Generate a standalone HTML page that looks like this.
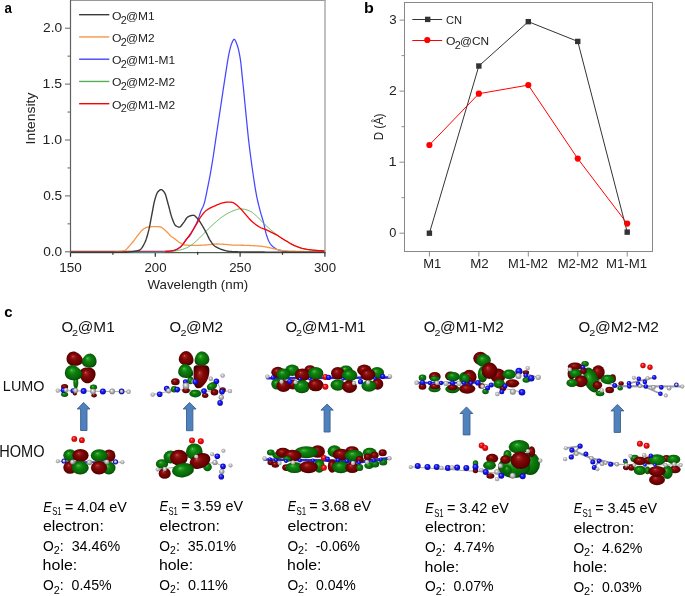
<!DOCTYPE html>
<html><head><meta charset="utf-8"><style>
html,body{margin:0;padding:0;background:#fff;width:685px;height:596px;overflow:hidden}
svg{display:block;font-family:"Liberation Sans", sans-serif;will-change:transform}
</style></head><body>
<svg width="685" height="596" viewBox="0 0 685 596">
<defs>
<radialGradient id="gR" cx="0.5" cy="0.5" r="0.55" fx="0.38" fy="0.32">
 <stop offset="0" stop-color="#d06868"/><stop offset="0.12" stop-color="#a42222"/><stop offset="0.38" stop-color="#820808"/><stop offset="0.78" stop-color="#640000"/><stop offset="1" stop-color="#3a0000"/>
</radialGradient>
<radialGradient id="gG" cx="0.5" cy="0.5" r="0.55" fx="0.38" fy="0.32">
 <stop offset="0" stop-color="#70d070"/><stop offset="0.12" stop-color="#2ca42c"/><stop offset="0.38" stop-color="#0e800e"/><stop offset="0.78" stop-color="#076407"/><stop offset="1" stop-color="#033803"/>
</radialGradient>
<radialGradient id="gN" cx="0.5" cy="0.5" r="0.55" fx="0.38" fy="0.32">
 <stop offset="0" stop-color="#a0a0ff"/><stop offset="0.35" stop-color="#2020ff"/><stop offset="1" stop-color="#0000a0"/>
</radialGradient>
<radialGradient id="gC" cx="0.5" cy="0.5" r="0.55" fx="0.38" fy="0.32">
 <stop offset="0" stop-color="#ffffff"/><stop offset="0.35" stop-color="#c8c8c8"/><stop offset="1" stop-color="#707070"/>
</radialGradient>
<radialGradient id="gH" cx="0.5" cy="0.5" r="0.55" fx="0.38" fy="0.32">
 <stop offset="0" stop-color="#fafafa"/><stop offset="0.35" stop-color="#cccccc"/><stop offset="0.8" stop-color="#a0a0a0"/><stop offset="1" stop-color="#6a6a6a"/>
</radialGradient>
<radialGradient id="gO" cx="0.5" cy="0.5" r="0.55" fx="0.38" fy="0.32">
 <stop offset="0" stop-color="#ff9a9a"/><stop offset="0.35" stop-color="#ff1414"/><stop offset="1" stop-color="#b00000"/>
</radialGradient>
</defs>
<path d="M70.5 0.45 H325.6" fill="none" stroke="#989898" stroke-width="1.1"/>
<path d="M325.0 0 V251.8" fill="none" stroke="#ababab" stroke-width="1.5"/>
<path d="M70.5 0 V252.4" fill="none" stroke="#606060" stroke-width="1.2"/>
<line x1="65.0" y1="251.80" x2="70.5" y2="251.80" stroke="#606060" stroke-width="1"/>
<line x1="67.5" y1="223.85" x2="70.5" y2="223.85" stroke="#606060" stroke-width="1"/>
<line x1="65.0" y1="195.90" x2="70.5" y2="195.90" stroke="#606060" stroke-width="1"/>
<line x1="67.5" y1="167.95" x2="70.5" y2="167.95" stroke="#606060" stroke-width="1"/>
<line x1="65.0" y1="140.00" x2="70.5" y2="140.00" stroke="#606060" stroke-width="1"/>
<line x1="67.5" y1="112.05" x2="70.5" y2="112.05" stroke="#606060" stroke-width="1"/>
<line x1="65.0" y1="84.10" x2="70.5" y2="84.10" stroke="#606060" stroke-width="1"/>
<line x1="67.5" y1="56.15" x2="70.5" y2="56.15" stroke="#606060" stroke-width="1"/>
<line x1="65.0" y1="28.20" x2="70.5" y2="28.20" stroke="#606060" stroke-width="1"/>
<line x1="70.50" y1="251.8" x2="70.50" y2="256.8" stroke="#303030" stroke-width="1.2"/>
<line x1="112.90" y1="251.8" x2="112.90" y2="254.8" stroke="#303030" stroke-width="1.2"/>
<line x1="155.30" y1="251.8" x2="155.30" y2="256.8" stroke="#303030" stroke-width="1.2"/>
<line x1="197.70" y1="251.8" x2="197.70" y2="254.8" stroke="#303030" stroke-width="1.2"/>
<line x1="240.10" y1="251.8" x2="240.10" y2="256.8" stroke="#303030" stroke-width="1.2"/>
<line x1="282.50" y1="251.8" x2="282.50" y2="254.8" stroke="#303030" stroke-width="1.2"/>
<line x1="324.90" y1="251.8" x2="324.90" y2="256.8" stroke="#303030" stroke-width="1.2"/>
<line x1="70.5" y1="252.7" x2="325.5" y2="252.7" stroke="#253525" stroke-width="1.0"/>
<line x1="70.5" y1="251.5" x2="168" y2="251.5" stroke="#ff0000" stroke-width="1.3"/>
<path d="M70.5 252.20 L71.0 252.20 L71.5 252.20 L72.0 252.20 L72.5 252.20 L73.0 252.20 L73.5 252.20 L74.0 252.20 L74.5 252.20 L75.0 252.20 L75.5 252.20 L76.0 252.20 L76.5 252.20 L77.0 252.20 L77.5 252.20 L78.0 252.20 L78.5 252.20 L79.0 252.20 L79.5 252.20 L80.0 252.20 L80.5 252.20 L81.0 252.20 L81.5 252.20 L82.0 252.20 L82.5 252.20 L83.0 252.20 L83.5 252.20 L84.0 252.20 L84.5 252.20 L85.0 252.20 L85.5 252.20 L86.0 252.20 L86.5 252.20 L87.0 252.20 L87.5 252.20 L88.0 252.20 L88.5 252.20 L89.0 252.20 L89.5 252.20 L90.0 252.20 L90.5 252.20 L91.0 252.20 L91.5 252.20 L92.0 252.20 L92.5 252.20 L93.0 252.20 L93.5 252.20 L94.0 252.20 L94.5 252.20 L95.0 252.20 L95.5 252.20 L96.0 252.20 L96.5 252.20 L97.0 252.20 L97.5 252.20 L98.0 252.20 L98.5 252.20 L99.0 252.20 L99.5 252.20 L100.0 252.20 L100.5 252.20 L101.0 252.20 L101.5 252.20 L102.0 252.20 L102.5 252.20 L103.0 252.20 L103.5 252.20 L104.0 252.20 L104.5 252.20 L105.0 252.20 L105.5 252.20 L106.0 252.20 L106.5 252.20 L107.0 252.20 L107.5 252.20 L108.0 252.20 L108.5 252.20 L109.0 252.20 L109.5 252.20 L110.0 252.20 L110.5 252.20 L111.0 252.20 L111.5 252.20 L112.0 252.20 L112.5 252.20 L113.0 252.20 L113.5 252.20 L114.0 252.20 L114.5 252.20 L115.0 252.20 L115.5 252.20 L116.0 252.20 L116.5 252.20 L117.0 252.20 L117.5 252.20 L118.0 252.20 L118.5 252.20 L119.0 252.20 L119.5 252.20 L120.0 252.20 L120.5 252.20 L121.0 252.20 L121.5 252.20 L122.0 252.20 L122.5 252.20 L123.0 252.20 L123.5 252.20 L124.0 252.20 L124.5 252.20 L125.0 252.20 L125.5 252.20 L126.0 252.20 L126.5 252.20 L127.0 252.20 L127.5 252.20 L128.0 252.20 L128.5 252.20 L129.0 252.20 L129.5 252.20 L130.0 252.20 L130.5 252.20 L131.0 252.20 L131.5 252.20 L132.0 252.20 L132.5 252.20 L133.0 252.20 L133.5 252.20 L134.0 252.20 L134.5 252.20 L135.0 252.20 L135.5 252.20 L136.0 252.20 L136.5 252.20 L137.0 252.20 L137.5 252.20 L138.0 252.20 L138.5 252.20 L139.0 252.20 L139.5 252.20 L140.0 252.20 L140.5 252.20 L141.0 252.20 L141.5 252.20 L142.0 252.20 L142.5 252.20 L143.0 252.20 L143.5 252.20 L144.0 252.20 L144.5 252.20 L145.0 252.20 L145.5 252.20 L146.0 252.20 L146.5 252.20 L147.0 252.20 L147.5 252.20 L148.0 252.20 L148.5 252.20 L149.0 252.20 L149.5 252.20 L150.0 252.20 L150.5 252.20 L151.0 252.20 L151.5 252.19 L152.0 252.18 L152.5 252.18 L153.0 252.17 L153.5 252.15 L154.0 252.14 L154.5 252.13 L155.0 252.11 L155.5 252.09 L156.0 252.08 L156.5 252.06 L157.0 252.03 L157.5 252.01 L158.0 251.99 L158.5 251.97 L159.0 251.94 L159.5 251.92 L160.0 251.89 L160.5 251.86 L161.0 251.83 L161.5 251.81 L162.0 251.78 L162.5 251.75 L163.0 251.72 L163.5 251.69 L164.0 251.66 L164.5 251.63 L165.0 251.60 L165.5 251.57 L166.0 251.54 L166.5 251.51 L167.0 251.47 L167.5 251.43 L168.0 251.39 L168.5 251.35 L169.0 251.31 L169.5 251.26 L170.0 251.21 L170.5 251.15 L171.0 251.09 L171.5 251.02 L172.0 250.95 L172.5 250.87 L173.0 250.78 L173.5 250.66 L174.0 250.49 L174.5 250.30 L175.0 250.10 L175.5 249.89 L176.0 249.66 L176.5 249.42 L177.0 249.16 L177.5 248.88 L178.0 248.59 L178.5 248.28 L179.0 247.95 L179.5 247.60 L180.0 247.23 L180.5 246.84 L181.0 246.43 L181.5 245.94 L182.0 245.38 L182.5 244.77 L183.0 244.10 L183.5 243.40 L184.0 242.68 L184.5 241.96 L185.0 241.24 L185.5 240.53 L186.0 239.86 L186.5 239.24 L187.0 238.67 L187.5 238.16 L188.0 237.67 L188.5 237.20 L189.0 236.69 L189.5 236.14 L190.0 235.50 L190.5 234.72 L191.0 233.80 L191.5 232.81 L192.0 231.78 L192.5 230.80 L193.0 229.87 L193.5 228.95 L194.0 228.03 L194.5 227.11 L195.0 226.18 L195.5 225.23 L196.0 224.24 L196.5 223.21 L197.0 222.13 L197.5 220.98 L198.0 219.76 L198.5 218.41 L199.0 216.91 L199.5 215.33 L200.0 213.74 L200.5 212.22 L201.0 210.85 L201.5 209.69 L202.0 208.70 L202.5 207.77 L203.0 206.76 L203.5 205.57 L204.0 204.09 L204.5 202.33 L205.0 200.32 L205.5 198.13 L206.0 195.79 L206.5 193.35 L207.0 190.86 L207.5 188.37 L208.0 185.91 L208.5 183.43 L209.0 180.89 L209.5 178.27 L210.0 175.59 L210.5 172.84 L211.0 170.02 L211.5 167.14 L212.0 164.20 L212.5 161.16 L213.0 157.99 L213.5 154.72 L214.0 151.36 L214.5 147.95 L215.0 144.52 L215.5 141.09 L216.0 137.68 L216.5 134.33 L217.0 131.01 L217.5 127.68 L218.0 124.35 L218.5 121.03 L219.0 117.70 L219.5 114.37 L220.0 111.05 L220.5 107.73 L221.0 104.40 L221.5 101.05 L222.0 97.69 L222.5 94.32 L223.0 90.96 L223.5 87.63 L224.0 84.33 L224.5 81.08 L225.0 77.90 L225.5 74.70 L226.0 71.45 L226.5 68.18 L227.0 64.96 L227.5 61.83 L228.0 58.84 L228.5 56.04 L229.0 53.49 L229.5 51.22 L230.0 49.08 L230.5 47.11 L231.0 45.39 L231.5 44.00 L232.0 42.78 L232.5 41.59 L233.0 40.55 L233.5 39.76 L234.0 39.34 L234.5 39.40 L235.0 39.94 L235.5 40.85 L236.0 41.99 L236.5 43.25 L237.0 44.52 L237.5 45.99 L238.0 47.72 L238.5 49.70 L239.0 51.92 L239.5 54.39 L240.0 57.10 L240.5 60.40 L241.0 64.49 L241.5 69.14 L242.0 74.09 L242.5 79.10 L243.0 83.96 L243.5 88.86 L244.0 93.93 L244.5 99.10 L245.0 104.27 L245.5 109.39 L246.0 114.42 L246.5 119.53 L247.0 124.65 L247.5 129.68 L248.0 134.53 L248.5 139.12 L249.0 143.43 L249.5 147.58 L250.0 151.58 L250.5 155.46 L251.0 159.23 L251.5 162.90 L252.0 166.48 L252.5 170.01 L253.0 173.51 L253.5 176.98 L254.0 180.39 L254.5 183.69 L255.0 186.87 L255.5 189.89 L256.0 192.71 L256.5 195.32 L257.0 197.76 L257.5 200.07 L258.0 202.26 L258.5 204.36 L259.0 206.39 L259.5 208.36 L260.0 210.30 L260.5 212.16 L261.0 213.91 L261.5 215.59 L262.0 217.24 L262.5 218.90 L263.0 220.62 L263.5 222.44 L264.0 224.43 L264.5 226.69 L265.0 229.05 L265.5 231.34 L266.0 233.38 L266.5 235.02 L267.0 236.50 L267.5 237.91 L268.0 239.21 L268.5 240.42 L269.0 241.51 L269.5 242.47 L270.0 243.31 L270.5 244.01 L271.0 244.65 L271.5 245.23 L272.0 245.77 L272.5 246.25 L273.0 246.69 L273.5 247.10 L274.0 247.46 L274.5 247.80 L275.0 248.13 L275.5 248.44 L276.0 248.74 L276.5 249.02 L277.0 249.28 L277.5 249.52 L278.0 249.73 L278.5 249.93 L279.0 250.09 L279.5 250.23 L280.0 250.35 L280.5 250.47 L281.0 250.59 L281.5 250.71 L282.0 250.82 L282.5 250.94 L283.0 251.05 L283.5 251.15 L284.0 251.25 L284.5 251.35 L285.0 251.44 L285.5 251.53 L286.0 251.62 L286.5 251.70 L287.0 251.77 L287.5 251.84 L288.0 251.90 L288.5 251.96 L289.0 252.01 L289.5 252.06 L290.0 252.10 L290.5 252.14 L291.0 252.16 L291.5 252.18 L292.0 252.19 L292.5 252.20 L293.0 252.20 L293.5 252.20 L294.0 252.20 L294.5 252.20 L295.0 252.20 L295.5 252.20 L296.0 252.20 L296.5 252.20 L297.0 252.20 L297.5 252.20 L298.0 252.20 L298.5 252.20 L299.0 252.20 L299.5 252.20 L300.0 252.20 L300.5 252.19 L301.0 252.19 L301.5 252.19 L302.0 252.19 L302.5 252.19 L303.0 252.19 L303.5 252.18 L304.0 252.18 L304.5 252.18 L305.0 252.18 L305.5 252.17 L306.0 252.17 L306.5 252.17 L307.0 252.16 L307.5 252.16 L308.0 252.15 L308.5 252.15 L309.0 252.15 L309.5 252.14 L310.0 252.14 L310.5 252.13 L311.0 252.12 L311.5 252.12 L312.0 252.11 L312.5 252.10 L313.0 252.10 L313.5 252.09 L314.0 252.08 L314.5 252.07 L315.0 252.06 L315.5 252.05 L316.0 252.04 L316.5 252.03 L317.0 252.02 L317.5 252.01 L318.0 252.00 L318.5 251.99 L319.0 251.97 L319.5 251.96 L320.0 251.95 L320.5 251.93 L321.0 251.92 L321.5 251.90 L322.0 251.89 L322.5 251.87 L323.0 251.85 L323.5 251.84 L324.0 251.82 L324.5 251.80" fill="none" stroke="#4646ff" stroke-width="1.25" stroke-linejoin="round"/>
<path d="M70.5 252.10 L71.0 252.10 L71.5 252.10 L72.0 252.10 L72.5 252.10 L73.0 252.10 L73.5 252.10 L74.0 252.10 L74.5 252.10 L75.0 252.10 L75.5 252.10 L76.0 252.10 L76.5 252.10 L77.0 252.10 L77.5 252.10 L78.0 252.10 L78.5 252.10 L79.0 252.10 L79.5 252.10 L80.0 252.10 L80.5 252.10 L81.0 252.10 L81.5 252.10 L82.0 252.10 L82.5 252.10 L83.0 252.10 L83.5 252.10 L84.0 252.10 L84.5 252.10 L85.0 252.10 L85.5 252.10 L86.0 252.10 L86.5 252.10 L87.0 252.10 L87.5 252.10 L88.0 252.10 L88.5 252.10 L89.0 252.10 L89.5 252.10 L90.0 252.10 L90.5 252.10 L91.0 252.10 L91.5 252.10 L92.0 252.10 L92.5 252.10 L93.0 252.10 L93.5 252.10 L94.0 252.10 L94.5 252.10 L95.0 252.10 L95.5 252.10 L96.0 252.10 L96.5 252.10 L97.0 252.10 L97.5 252.10 L98.0 252.10 L98.5 252.10 L99.0 252.10 L99.5 252.10 L100.0 252.10 L100.5 252.10 L101.0 252.10 L101.5 252.10 L102.0 252.10 L102.5 252.10 L103.0 252.10 L103.5 252.10 L104.0 252.10 L104.5 252.10 L105.0 252.10 L105.5 252.10 L106.0 252.10 L106.5 252.10 L107.0 252.10 L107.5 252.10 L108.0 252.10 L108.5 252.10 L109.0 252.10 L109.5 252.10 L110.0 252.10 L110.5 252.10 L111.0 252.10 L111.5 252.10 L112.0 252.10 L112.5 252.09 L113.0 252.08 L113.5 252.05 L114.0 252.01 L114.5 251.97 L115.0 251.92 L115.5 251.87 L116.0 251.81 L116.5 251.76 L117.0 251.70 L117.5 251.65 L118.0 251.60 L118.5 251.55 L119.0 251.51 L119.5 251.46 L120.0 251.40 L120.5 251.34 L121.0 251.28 L121.5 251.21 L122.0 251.14 L122.5 251.06 L123.0 250.96 L123.5 250.86 L124.0 250.74 L124.5 250.60 L125.0 250.39 L125.5 250.07 L126.0 249.67 L126.5 249.19 L127.0 248.66 L127.5 248.10 L128.0 247.52 L128.5 246.95 L129.0 246.41 L129.5 245.88 L130.0 245.33 L130.5 244.76 L131.0 244.18 L131.5 243.59 L132.0 242.98 L132.5 242.37 L133.0 241.75 L133.5 241.13 L134.0 240.49 L134.5 239.83 L135.0 239.16 L135.5 238.47 L136.0 237.79 L136.5 237.10 L137.0 236.42 L137.5 235.76 L138.0 235.12 L138.5 234.50 L139.0 233.85 L139.5 233.20 L140.0 232.55 L140.5 231.92 L141.0 231.32 L141.5 230.77 L142.0 230.27 L142.5 229.85 L143.0 229.49 L143.5 229.15 L144.0 228.81 L144.5 228.49 L145.0 228.20 L145.5 227.92 L146.0 227.68 L146.5 227.47 L147.0 227.30 L147.5 227.17 L148.0 227.09 L148.5 227.02 L149.0 226.96 L149.5 226.91 L150.0 226.85 L150.5 226.81 L151.0 226.76 L151.5 226.72 L152.0 226.69 L152.5 226.66 L153.0 226.64 L153.5 226.62 L154.0 226.61 L154.5 226.60 L155.0 226.60 L155.5 226.61 L156.0 226.62 L156.5 226.64 L157.0 226.66 L157.5 226.69 L158.0 226.72 L158.5 226.76 L159.0 226.80 L159.5 226.85 L160.0 226.90 L160.5 227.00 L161.0 227.17 L161.5 227.42 L162.0 227.73 L162.5 228.08 L163.0 228.47 L163.5 228.88 L164.0 229.31 L164.5 229.74 L165.0 230.16 L165.5 230.56 L166.0 231.00 L166.5 231.48 L167.0 231.98 L167.5 232.51 L168.0 233.05 L168.5 233.60 L169.0 234.15 L169.5 234.69 L170.0 235.21 L170.5 235.70 L171.0 236.16 L171.5 236.58 L172.0 236.96 L172.5 237.32 L173.0 237.66 L173.5 237.99 L174.0 238.32 L174.5 238.65 L175.0 239.00 L175.5 239.37 L176.0 239.75 L176.5 240.14 L177.0 240.54 L177.5 240.93 L178.0 241.31 L178.5 241.69 L179.0 242.04 L179.5 242.37 L180.0 242.69 L180.5 243.01 L181.0 243.35 L181.5 243.67 L182.0 243.98 L182.5 244.27 L183.0 244.52 L183.5 244.71 L184.0 244.85 L184.5 244.92 L185.0 244.98 L185.5 245.03 L186.0 245.08 L186.5 245.13 L187.0 245.17 L187.5 245.21 L188.0 245.24 L188.5 245.28 L189.0 245.31 L189.5 245.33 L190.0 245.35 L190.5 245.37 L191.0 245.38 L191.5 245.39 L192.0 245.40 L192.5 245.40 L193.0 245.40 L193.5 245.40 L194.0 245.39 L194.5 245.39 L195.0 245.38 L195.5 245.38 L196.0 245.37 L196.5 245.36 L197.0 245.35 L197.5 245.33 L198.0 245.32 L198.5 245.31 L199.0 245.29 L199.5 245.28 L200.0 245.26 L200.5 245.24 L201.0 245.23 L201.5 245.21 L202.0 245.19 L202.5 245.17 L203.0 245.15 L203.5 245.13 L204.0 245.11 L204.5 245.09 L205.0 245.06 L205.5 245.02 L206.0 244.98 L206.5 244.94 L207.0 244.89 L207.5 244.84 L208.0 244.79 L208.5 244.74 L209.0 244.69 L209.5 244.64 L210.0 244.60 L210.5 244.55 L211.0 244.50 L211.5 244.45 L212.0 244.39 L212.5 244.34 L213.0 244.28 L213.5 244.22 L214.0 244.17 L214.5 244.13 L215.0 244.08 L215.5 244.05 L216.0 244.02 L216.5 244.01 L217.0 244.00 L217.5 244.00 L218.0 244.01 L218.5 244.02 L219.0 244.04 L219.5 244.06 L220.0 244.08 L220.5 244.10 L221.0 244.13 L221.5 244.15 L222.0 244.18 L222.5 244.21 L223.0 244.24 L223.5 244.27 L224.0 244.30 L224.5 244.33 L225.0 244.37 L225.5 244.41 L226.0 244.45 L226.5 244.50 L227.0 244.55 L227.5 244.60 L228.0 244.66 L228.5 244.71 L229.0 244.76 L229.5 244.82 L230.0 244.87 L230.5 244.91 L231.0 244.96 L231.5 245.00 L232.0 245.03 L232.5 245.06 L233.0 245.09 L233.5 245.10 L234.0 245.12 L234.5 245.13 L235.0 245.14 L235.5 245.15 L236.0 245.16 L236.5 245.17 L237.0 245.18 L237.5 245.18 L238.0 245.19 L238.5 245.20 L239.0 245.20 L239.5 245.21 L240.0 245.21 L240.5 245.22 L241.0 245.23 L241.5 245.23 L242.0 245.24 L242.5 245.25 L243.0 245.26 L243.5 245.27 L244.0 245.28 L244.5 245.29 L245.0 245.30 L245.5 245.31 L246.0 245.33 L246.5 245.35 L247.0 245.37 L247.5 245.39 L248.0 245.41 L248.5 245.43 L249.0 245.46 L249.5 245.48 L250.0 245.51 L250.5 245.54 L251.0 245.57 L251.5 245.59 L252.0 245.62 L252.5 245.65 L253.0 245.68 L253.5 245.71 L254.0 245.74 L254.5 245.77 L255.0 245.80 L255.5 245.83 L256.0 245.86 L256.5 245.88 L257.0 245.91 L257.5 245.94 L258.0 245.97 L258.5 246.00 L259.0 246.04 L259.5 246.07 L260.0 246.11 L260.5 246.15 L261.0 246.20 L261.5 246.25 L262.0 246.31 L262.5 246.38 L263.0 246.45 L263.5 246.53 L264.0 246.62 L264.5 246.71 L265.0 246.80 L265.5 246.90 L266.0 247.00 L266.5 247.10 L267.0 247.21 L267.5 247.31 L268.0 247.41 L268.5 247.52 L269.0 247.62 L269.5 247.73 L270.0 247.84 L270.5 247.96 L271.0 248.08 L271.5 248.21 L272.0 248.34 L272.5 248.47 L273.0 248.60 L273.5 248.73 L274.0 248.86 L274.5 248.98 L275.0 249.10 L275.5 249.22 L276.0 249.33 L276.5 249.44 L277.0 249.54 L277.5 249.64 L278.0 249.74 L278.5 249.84 L279.0 249.94 L279.5 250.04 L280.0 250.14 L280.5 250.23 L281.0 250.32 L281.5 250.41 L282.0 250.49 L282.5 250.56 L283.0 250.63 L283.5 250.69 L284.0 250.74 L284.5 250.79 L285.0 250.82 L285.5 250.85 L286.0 250.88 L286.5 250.91 L287.0 250.94 L287.5 250.97 L288.0 250.99 L288.5 251.01 L289.0 251.04 L289.5 251.06 L290.0 251.08 L290.5 251.10 L291.0 251.12 L291.5 251.14 L292.0 251.15 L292.5 251.17 L293.0 251.19 L293.5 251.20 L294.0 251.22 L294.5 251.23 L295.0 251.25 L295.5 251.26 L296.0 251.28 L296.5 251.29 L297.0 251.31 L297.5 251.32 L298.0 251.34 L298.5 251.35 L299.0 251.37 L299.5 251.38 L300.0 251.40 L300.5 251.42 L301.0 251.43 L301.5 251.45 L302.0 251.47 L302.5 251.48 L303.0 251.50 L303.5 251.52 L304.0 251.53 L304.5 251.55 L305.0 251.56 L305.5 251.58 L306.0 251.60 L306.5 251.61 L307.0 251.63 L307.5 251.64 L308.0 251.66 L308.5 251.67 L309.0 251.69 L309.5 251.70 L310.0 251.72 L310.5 251.73 L311.0 251.75 L311.5 251.76 L312.0 251.78 L312.5 251.79 L313.0 251.81 L313.5 251.82 L314.0 251.84 L314.5 251.85 L315.0 251.86 L315.5 251.88 L316.0 251.89 L316.5 251.90 L317.0 251.92 L317.5 251.93 L318.0 251.94 L318.5 251.96 L319.0 251.97 L319.5 251.98 L320.0 251.99 L320.5 252.01 L321.0 252.02 L321.5 252.03 L322.0 252.04 L322.5 252.05 L323.0 252.07 L323.5 252.08 L324.0 252.09 L324.5 252.10" fill="none" stroke="#f79646" stroke-width="1.30" stroke-linejoin="round"/>
<path d="M70.5 252.20 L71.0 252.20 L71.5 252.20 L72.0 252.20 L72.5 252.20 L73.0 252.20 L73.5 252.20 L74.0 252.20 L74.5 252.20 L75.0 252.20 L75.5 252.20 L76.0 252.20 L76.5 252.20 L77.0 252.20 L77.5 252.20 L78.0 252.20 L78.5 252.20 L79.0 252.20 L79.5 252.20 L80.0 252.20 L80.5 252.20 L81.0 252.20 L81.5 252.20 L82.0 252.20 L82.5 252.20 L83.0 252.20 L83.5 252.20 L84.0 252.20 L84.5 252.20 L85.0 252.20 L85.5 252.20 L86.0 252.20 L86.5 252.20 L87.0 252.20 L87.5 252.20 L88.0 252.20 L88.5 252.20 L89.0 252.20 L89.5 252.20 L90.0 252.20 L90.5 252.20 L91.0 252.20 L91.5 252.20 L92.0 252.20 L92.5 252.20 L93.0 252.20 L93.5 252.20 L94.0 252.20 L94.5 252.20 L95.0 252.20 L95.5 252.20 L96.0 252.20 L96.5 252.20 L97.0 252.20 L97.5 252.20 L98.0 252.20 L98.5 252.20 L99.0 252.20 L99.5 252.20 L100.0 252.20 L100.5 252.20 L101.0 252.20 L101.5 252.20 L102.0 252.20 L102.5 252.20 L103.0 252.20 L103.5 252.20 L104.0 252.20 L104.5 252.20 L105.0 252.20 L105.5 252.20 L106.0 252.20 L106.5 252.20 L107.0 252.20 L107.5 252.20 L108.0 252.20 L108.5 252.20 L109.0 252.20 L109.5 252.20 L110.0 252.20 L110.5 252.20 L111.0 252.20 L111.5 252.20 L112.0 252.20 L112.5 252.20 L113.0 252.20 L113.5 252.20 L114.0 252.20 L114.5 252.20 L115.0 252.20 L115.5 252.20 L116.0 252.20 L116.5 252.20 L117.0 252.20 L117.5 252.20 L118.0 252.20 L118.5 252.20 L119.0 252.20 L119.5 252.20 L120.0 252.20 L120.5 252.20 L121.0 252.20 L121.5 252.20 L122.0 252.20 L122.5 252.20 L123.0 252.20 L123.5 252.20 L124.0 252.20 L124.5 252.20 L125.0 252.20 L125.5 252.20 L126.0 252.20 L126.5 252.20 L127.0 252.20 L127.5 252.20 L128.0 252.20 L128.5 252.20 L129.0 252.20 L129.5 252.20 L130.0 252.20 L130.5 252.20 L131.0 252.20 L131.5 252.20 L132.0 252.20 L132.5 252.20 L133.0 252.20 L133.5 252.20 L134.0 252.20 L134.5 252.20 L135.0 252.20 L135.5 252.20 L136.0 252.20 L136.5 252.20 L137.0 252.20 L137.5 252.20 L138.0 252.20 L138.5 252.20 L139.0 252.20 L139.5 252.20 L140.0 252.20 L140.5 252.20 L141.0 252.20 L141.5 252.20 L142.0 252.20 L142.5 252.20 L143.0 252.20 L143.5 252.20 L144.0 252.20 L144.5 252.20 L145.0 252.20 L145.5 252.20 L146.0 252.20 L146.5 252.20 L147.0 252.20 L147.5 252.20 L148.0 252.20 L148.5 252.20 L149.0 252.20 L149.5 252.20 L150.0 252.20 L150.5 252.20 L151.0 252.20 L151.5 252.20 L152.0 252.20 L152.5 252.20 L153.0 252.20 L153.5 252.20 L154.0 252.20 L154.5 252.20 L155.0 252.20 L155.5 252.20 L156.0 252.20 L156.5 252.20 L157.0 252.20 L157.5 252.20 L158.0 252.20 L158.5 252.20 L159.0 252.20 L159.5 252.20 L160.0 252.20 L160.5 252.20 L161.0 252.18 L161.5 252.16 L162.0 252.13 L162.5 252.09 L163.0 252.05 L163.5 252.00 L164.0 251.95 L164.5 251.90 L165.0 251.84 L165.5 251.78 L166.0 251.72 L166.5 251.66 L167.0 251.60 L167.5 251.54 L168.0 251.48 L168.5 251.43 L169.0 251.38 L169.5 251.34 L170.0 251.30 L170.5 251.27 L171.0 251.24 L171.5 251.21 L172.0 251.19 L172.5 251.16 L173.0 251.14 L173.5 251.11 L174.0 251.08 L174.5 251.04 L175.0 251.00 L175.5 250.95 L176.0 250.88 L176.5 250.79 L177.0 250.70 L177.5 250.60 L178.0 250.48 L178.5 250.37 L179.0 250.25 L179.5 250.12 L180.0 250.00 L180.5 249.87 L181.0 249.74 L181.5 249.61 L182.0 249.47 L182.5 249.32 L183.0 249.16 L183.5 249.00 L184.0 248.84 L184.5 248.66 L185.0 248.48 L185.5 248.29 L186.0 248.09 L186.5 247.88 L187.0 247.67 L187.5 247.43 L188.0 247.18 L188.5 246.91 L189.0 246.62 L189.5 246.32 L190.0 246.01 L190.5 245.69 L191.0 245.35 L191.5 245.01 L192.0 244.66 L192.5 244.30 L193.0 243.93 L193.5 243.53 L194.0 243.11 L194.5 242.68 L195.0 242.23 L195.5 241.77 L196.0 241.30 L196.5 240.82 L197.0 240.34 L197.5 239.86 L198.0 239.38 L198.5 238.91 L199.0 238.43 L199.5 237.94 L200.0 237.45 L200.5 236.95 L201.0 236.45 L201.5 235.94 L202.0 235.43 L202.5 234.93 L203.0 234.42 L203.5 233.91 L204.0 233.40 L204.5 232.90 L205.0 232.39 L205.5 231.87 L206.0 231.35 L206.5 230.83 L207.0 230.31 L207.5 229.80 L208.0 229.28 L208.5 228.78 L209.0 228.28 L209.5 227.78 L210.0 227.30 L210.5 226.83 L211.0 226.36 L211.5 225.90 L212.0 225.45 L212.5 225.01 L213.0 224.56 L213.5 224.12 L214.0 223.68 L214.5 223.23 L215.0 222.79 L215.5 222.34 L216.0 221.89 L216.5 221.44 L217.0 221.00 L217.5 220.56 L218.0 220.13 L218.5 219.71 L219.0 219.29 L219.5 218.89 L220.0 218.50 L220.5 218.12 L221.0 217.75 L221.5 217.37 L222.0 217.01 L222.5 216.65 L223.0 216.30 L223.5 215.96 L224.0 215.62 L224.5 215.29 L225.0 214.98 L225.5 214.67 L226.0 214.37 L226.5 214.09 L227.0 213.81 L227.5 213.53 L228.0 213.26 L228.5 212.99 L229.0 212.73 L229.5 212.47 L230.0 212.22 L230.5 211.97 L231.0 211.74 L231.5 211.51 L232.0 211.29 L232.5 211.08 L233.0 210.87 L233.5 210.68 L234.0 210.50 L234.5 210.32 L235.0 210.13 L235.5 209.94 L236.0 209.75 L236.5 209.56 L237.0 209.39 L237.5 209.23 L238.0 209.08 L238.5 208.97 L239.0 208.88 L239.5 208.82 L240.0 208.80 L240.5 208.81 L241.0 208.84 L241.5 208.88 L242.0 208.93 L242.5 209.00 L243.0 209.08 L243.5 209.16 L244.0 209.25 L244.5 209.34 L245.0 209.44 L245.5 209.54 L246.0 209.66 L246.5 209.79 L247.0 209.94 L247.5 210.11 L248.0 210.29 L248.5 210.49 L249.0 210.70 L249.5 210.93 L250.0 211.16 L250.5 211.40 L251.0 211.67 L251.5 211.97 L252.0 212.30 L252.5 212.66 L253.0 213.04 L253.5 213.44 L254.0 213.85 L254.5 214.28 L255.0 214.71 L255.5 215.14 L256.0 215.57 L256.5 216.03 L257.0 216.50 L257.5 216.99 L258.0 217.50 L258.5 218.01 L259.0 218.53 L259.5 219.06 L260.0 219.58 L260.5 220.09 L261.0 220.60 L261.5 221.10 L262.0 221.61 L262.5 222.12 L263.0 222.63 L263.5 223.14 L264.0 223.65 L264.5 224.15 L265.0 224.65 L265.5 225.14 L266.0 225.62 L266.5 226.09 L267.0 226.55 L267.5 227.01 L268.0 227.47 L268.5 227.92 L269.0 228.36 L269.5 228.80 L270.0 229.23 L270.5 229.66 L271.0 230.08 L271.5 230.50 L272.0 230.91 L272.5 231.31 L273.0 231.71 L273.5 232.10 L274.0 232.48 L274.5 232.87 L275.0 233.25 L275.5 233.62 L276.0 234.00 L276.5 234.37 L277.0 234.75 L277.5 235.13 L278.0 235.51 L278.5 235.88 L279.0 236.26 L279.5 236.63 L280.0 237.00 L280.5 237.36 L281.0 237.72 L281.5 238.06 L282.0 238.40 L282.5 238.73 L283.0 239.04 L283.5 239.35 L284.0 239.66 L284.5 239.96 L285.0 240.25 L285.5 240.54 L286.0 240.84 L286.5 241.13 L287.0 241.42 L287.5 241.72 L288.0 242.02 L288.5 242.33 L289.0 242.64 L289.5 242.94 L290.0 243.25 L290.5 243.55 L291.0 243.84 L291.5 244.12 L292.0 244.39 L292.5 244.65 L293.0 244.89 L293.5 245.13 L294.0 245.36 L294.5 245.58 L295.0 245.80 L295.5 246.01 L296.0 246.21 L296.5 246.41 L297.0 246.60 L297.5 246.79 L298.0 246.97 L298.5 247.16 L299.0 247.34 L299.5 247.52 L300.0 247.69 L300.5 247.86 L301.0 248.02 L301.5 248.18 L302.0 248.32 L302.5 248.46 L303.0 248.58 L303.5 248.69 L304.0 248.79 L304.5 248.90 L305.0 249.00 L305.5 249.10 L306.0 249.19 L306.5 249.28 L307.0 249.36 L307.5 249.45 L308.0 249.52 L308.5 249.60 L309.0 249.67 L309.5 249.73 L310.0 249.79 L310.5 249.85 L311.0 249.90 L311.5 249.95 L312.0 250.00 L312.5 250.05 L313.0 250.10 L313.5 250.14 L314.0 250.19 L314.5 250.24 L315.0 250.28 L315.5 250.33 L316.0 250.37 L316.5 250.41 L317.0 250.45 L317.5 250.49 L318.0 250.53 L318.5 250.56 L319.0 250.59 L319.5 250.63 L320.0 250.66 L320.5 250.68 L321.0 250.71 L321.5 250.73 L322.0 250.75 L322.5 250.76 L323.0 250.78 L323.5 250.79 L324.0 250.80 L324.5 250.80" fill="none" stroke="#55b055" stroke-width="1.00" stroke-linejoin="round"/>
<path d="M70.5 252.25 L71.0 252.25 L71.5 252.25 L72.0 252.25 L72.5 252.25 L73.0 252.25 L73.5 252.25 L74.0 252.25 L74.5 252.25 L75.0 252.25 L75.5 252.25 L76.0 252.25 L76.5 252.25 L77.0 252.25 L77.5 252.25 L78.0 252.25 L78.5 252.25 L79.0 252.25 L79.5 252.25 L80.0 252.25 L80.5 252.25 L81.0 252.25 L81.5 252.25 L82.0 252.25 L82.5 252.25 L83.0 252.25 L83.5 252.25 L84.0 252.25 L84.5 252.25 L85.0 252.25 L85.5 252.25 L86.0 252.25 L86.5 252.25 L87.0 252.25 L87.5 252.25 L88.0 252.25 L88.5 252.25 L89.0 252.25 L89.5 252.25 L90.0 252.25 L90.5 252.25 L91.0 252.25 L91.5 252.25 L92.0 252.25 L92.5 252.25 L93.0 252.25 L93.5 252.25 L94.0 252.25 L94.5 252.25 L95.0 252.25 L95.5 252.25 L96.0 252.25 L96.5 252.25 L97.0 252.25 L97.5 252.25 L98.0 252.25 L98.5 252.25 L99.0 252.25 L99.5 252.25 L100.0 252.25 L100.5 252.25 L101.0 252.25 L101.5 252.25 L102.0 252.25 L102.5 252.25 L103.0 252.25 L103.5 252.25 L104.0 252.25 L104.5 252.25 L105.0 252.25 L105.5 252.25 L106.0 252.25 L106.5 252.25 L107.0 252.25 L107.5 252.25 L108.0 252.25 L108.5 252.25 L109.0 252.25 L109.5 252.25 L110.0 252.25 L110.5 252.25 L111.0 252.25 L111.5 252.25 L112.0 252.25 L112.5 252.25 L113.0 252.25 L113.5 252.25 L114.0 252.25 L114.5 252.25 L115.0 252.25 L115.5 252.25 L116.0 252.25 L116.5 252.25 L117.0 252.25 L117.5 252.25 L118.0 252.25 L118.5 252.25 L119.0 252.25 L119.5 252.25 L120.0 252.25 L120.5 252.25 L121.0 252.25 L121.5 252.25 L122.0 252.25 L122.5 252.25 L123.0 252.25 L123.5 252.25 L124.0 252.25 L124.5 252.25 L125.0 252.25 L125.5 252.24 L126.0 252.23 L126.5 252.20 L127.0 252.17 L127.5 252.12 L128.0 252.08 L128.5 252.02 L129.0 251.96 L129.5 251.90 L130.0 251.84 L130.5 251.78 L131.0 251.72 L131.5 251.66 L132.0 251.60 L132.5 251.54 L133.0 251.49 L133.5 251.43 L134.0 251.37 L134.5 251.30 L135.0 251.22 L135.5 251.13 L136.0 251.04 L136.5 250.94 L137.0 250.84 L137.5 250.71 L138.0 250.58 L138.5 250.42 L139.0 250.25 L139.5 250.04 L140.0 249.78 L140.5 249.41 L141.0 248.92 L141.5 248.33 L142.0 247.65 L142.5 246.90 L143.0 246.07 L143.5 245.19 L144.0 244.26 L144.5 243.29 L145.0 242.30 L145.5 241.15 L146.0 239.82 L146.5 238.33 L147.0 236.70 L147.5 234.95 L148.0 233.10 L148.5 231.18 L149.0 229.16 L149.5 226.85 L150.0 224.31 L150.5 221.66 L151.0 218.96 L151.5 216.32 L152.0 213.75 L152.5 211.03 L153.0 208.27 L153.5 205.58 L154.0 203.09 L154.5 200.94 L155.0 199.15 L155.5 197.46 L156.0 195.86 L156.5 194.43 L157.0 193.23 L157.5 192.30 L158.0 191.68 L158.5 191.15 L159.0 190.67 L159.5 190.25 L160.0 189.92 L160.5 189.70 L161.0 189.60 L161.5 189.66 L162.0 189.87 L162.5 190.23 L163.0 190.70 L163.5 191.26 L164.0 191.89 L164.5 192.56 L165.0 193.40 L165.5 194.63 L166.0 196.18 L166.5 197.95 L167.0 199.85 L167.5 201.78 L168.0 203.65 L168.5 205.39 L169.0 207.23 L169.5 209.16 L170.0 211.12 L170.5 213.05 L171.0 214.89 L171.5 216.57 L172.0 218.04 L172.5 219.33 L173.0 220.63 L173.5 221.88 L174.0 223.04 L174.5 224.08 L175.0 224.94 L175.5 225.58 L176.0 225.96 L176.5 226.23 L177.0 226.48 L177.5 226.70 L178.0 226.87 L178.5 227.00 L179.0 227.08 L179.5 227.10 L180.0 226.93 L180.5 226.58 L181.0 226.07 L181.5 225.45 L182.0 224.77 L182.5 224.07 L183.0 223.40 L183.5 222.78 L184.0 222.12 L184.5 221.37 L185.0 220.58 L185.5 219.77 L186.0 218.98 L186.5 218.26 L187.0 217.63 L187.5 217.13 L188.0 216.80 L188.5 216.57 L189.0 216.35 L189.5 216.14 L190.0 215.95 L190.5 215.78 L191.0 215.63 L191.5 215.51 L192.0 215.41 L192.5 215.34 L193.0 215.31 L193.5 215.31 L194.0 215.43 L194.5 215.67 L195.0 216.01 L195.5 216.43 L196.0 216.92 L196.5 217.46 L197.0 218.04 L197.5 218.63 L198.0 219.22 L198.5 219.80 L199.0 220.41 L199.5 221.11 L200.0 221.86 L200.5 222.67 L201.0 223.50 L201.5 224.34 L202.0 225.16 L202.5 226.00 L203.0 226.85 L203.5 227.72 L204.0 228.60 L204.5 229.50 L205.0 230.41 L205.5 231.33 L206.0 232.26 L206.5 233.20 L207.0 234.19 L207.5 235.24 L208.0 236.31 L208.5 237.38 L209.0 238.41 L209.5 239.36 L210.0 240.20 L210.5 240.96 L211.0 241.71 L211.5 242.43 L212.0 243.12 L212.5 243.77 L213.0 244.37 L213.5 244.92 L214.0 245.42 L214.5 245.85 L215.0 246.22 L215.5 246.56 L216.0 246.88 L216.5 247.19 L217.0 247.47 L217.5 247.74 L218.0 248.00 L218.5 248.24 L219.0 248.46 L219.5 248.68 L220.0 248.88 L220.5 249.07 L221.0 249.26 L221.5 249.43 L222.0 249.60 L222.5 249.77 L223.0 249.93 L223.5 250.10 L224.0 250.25 L224.5 250.40 L225.0 250.55 L225.5 250.68 L226.0 250.81 L226.5 250.93 L227.0 251.03 L227.5 251.13 L228.0 251.21 L228.5 251.28 L229.0 251.33 L229.5 251.38 L230.0 251.43 L230.5 251.48 L231.0 251.53 L231.5 251.57 L232.0 251.61 L232.5 251.65 L233.0 251.68 L233.5 251.71 L234.0 251.74 L234.5 251.76 L235.0 251.78 L235.5 251.79 L236.0 251.80 L236.5 251.81 L237.0 251.81 L237.5 251.82 L238.0 251.82 L238.5 251.83 L239.0 251.84 L239.5 251.84 L240.0 251.85 L240.5 251.85 L241.0 251.86 L241.5 251.87 L242.0 251.87 L242.5 251.88 L243.0 251.88 L243.5 251.89 L244.0 251.89 L244.5 251.90 L245.0 251.90 L245.5 251.91 L246.0 251.91 L246.5 251.92 L247.0 251.92 L247.5 251.93 L248.0 251.93 L248.5 251.94 L249.0 251.94 L249.5 251.95 L250.0 251.95 L250.5 251.96 L251.0 251.96 L251.5 251.97 L252.0 251.97 L252.5 251.98 L253.0 251.98 L253.5 251.99 L254.0 251.99 L254.5 252.00 L255.0 252.00 L255.5 252.00 L256.0 252.01 L256.5 252.01 L257.0 252.02 L257.5 252.02 L258.0 252.03 L258.5 252.03 L259.0 252.03 L259.5 252.04 L260.0 252.04 L260.5 252.04 L261.0 252.05 L261.5 252.05 L262.0 252.06 L262.5 252.06 L263.0 252.06 L263.5 252.07 L264.0 252.07 L264.5 252.07 L265.0 252.08 L265.5 252.08 L266.0 252.08 L266.5 252.09 L267.0 252.09 L267.5 252.09 L268.0 252.10 L268.5 252.10 L269.0 252.10 L269.5 252.11 L270.0 252.11 L270.5 252.11 L271.0 252.12 L271.5 252.12 L272.0 252.12 L272.5 252.12 L273.0 252.13 L273.5 252.13 L274.0 252.13 L274.5 252.14 L275.0 252.14 L275.5 252.14 L276.0 252.14 L276.5 252.15 L277.0 252.15 L277.5 252.15 L278.0 252.15 L278.5 252.16 L279.0 252.16 L279.5 252.16 L280.0 252.16 L280.5 252.16 L281.0 252.17 L281.5 252.17 L282.0 252.17 L282.5 252.17 L283.0 252.18 L283.5 252.18 L284.0 252.18 L284.5 252.18 L285.0 252.18 L285.5 252.19 L286.0 252.19 L286.5 252.19 L287.0 252.19 L287.5 252.19 L288.0 252.19 L288.5 252.20 L289.0 252.20 L289.5 252.20 L290.0 252.20 L290.5 252.20 L291.0 252.20 L291.5 252.21 L292.0 252.21 L292.5 252.21 L293.0 252.21 L293.5 252.21 L294.0 252.21 L294.5 252.21 L295.0 252.22 L295.5 252.22 L296.0 252.22 L296.5 252.22 L297.0 252.22 L297.5 252.22 L298.0 252.22 L298.5 252.22 L299.0 252.22 L299.5 252.23 L300.0 252.23 L300.5 252.23 L301.0 252.23 L301.5 252.23 L302.0 252.23 L302.5 252.23 L303.0 252.23 L303.5 252.23 L304.0 252.23 L304.5 252.24 L305.0 252.24 L305.5 252.24 L306.0 252.24 L306.5 252.24 L307.0 252.24 L307.5 252.24 L308.0 252.24 L308.5 252.24 L309.0 252.24 L309.5 252.24 L310.0 252.24 L310.5 252.24 L311.0 252.24 L311.5 252.24 L312.0 252.24 L312.5 252.25 L313.0 252.25 L313.5 252.25 L314.0 252.25 L314.5 252.25 L315.0 252.25 L315.5 252.25 L316.0 252.25 L316.5 252.25 L317.0 252.25 L317.5 252.25 L318.0 252.25 L318.5 252.25 L319.0 252.25 L319.5 252.25 L320.0 252.25 L320.5 252.25 L321.0 252.25 L321.5 252.25 L322.0 252.25 L322.5 252.25 L323.0 252.25 L323.5 252.25 L324.0 252.25 L324.5 252.25" fill="none" stroke="#3a3a3a" stroke-width="1.40" stroke-linejoin="round"/>
<path d="M165.0 251.50 L165.5 251.49 L166.0 251.47 L166.5 251.44 L167.0 251.40 L167.5 251.36 L168.0 251.31 L168.5 251.25 L169.0 251.19 L169.5 251.13 L170.0 251.06 L170.5 250.98 L171.0 250.91 L171.5 250.83 L172.0 250.75 L172.5 250.67 L173.0 250.58 L173.5 250.49 L174.0 250.38 L174.5 250.25 L175.0 250.10 L175.5 249.93 L176.0 249.72 L176.5 249.49 L177.0 249.23 L177.5 248.95 L178.0 248.65 L178.5 248.33 L179.0 247.98 L179.5 247.62 L180.0 247.24 L180.5 246.84 L181.0 246.43 L181.5 245.96 L182.0 245.42 L182.5 244.83 L183.0 244.20 L183.5 243.53 L184.0 242.84 L184.5 242.13 L185.0 241.40 L185.5 240.68 L186.0 239.97 L186.5 239.27 L187.0 238.60 L187.5 237.92 L188.0 237.24 L188.5 236.56 L189.0 235.87 L189.5 235.17 L190.0 234.47 L190.5 233.76 L191.0 233.04 L191.5 232.31 L192.0 231.56 L192.5 230.80 L193.0 230.02 L193.5 229.22 L194.0 228.40 L194.5 227.56 L195.0 226.71 L195.5 225.86 L196.0 225.01 L196.5 224.17 L197.0 223.32 L197.5 222.43 L198.0 221.53 L198.5 220.63 L199.0 219.73 L199.5 218.86 L200.0 218.02 L200.5 217.23 L201.0 216.50 L201.5 215.81 L202.0 215.14 L202.5 214.48 L203.0 213.85 L203.5 213.24 L204.0 212.65 L204.5 212.10 L205.0 211.59 L205.5 211.11 L206.0 210.68 L206.5 210.29 L207.0 209.92 L207.5 209.58 L208.0 209.26 L208.5 208.96 L209.0 208.67 L209.5 208.39 L210.0 208.12 L210.5 207.86 L211.0 207.60 L211.5 207.35 L212.0 207.11 L212.5 206.88 L213.0 206.66 L213.5 206.45 L214.0 206.24 L214.5 206.03 L215.0 205.82 L215.5 205.60 L216.0 205.39 L216.5 205.16 L217.0 204.93 L217.5 204.71 L218.0 204.50 L218.5 204.31 L219.0 204.12 L219.5 203.93 L220.0 203.75 L220.5 203.57 L221.0 203.39 L221.5 203.23 L222.0 203.08 L222.5 202.94 L223.0 202.81 L223.5 202.70 L224.0 202.60 L224.5 202.51 L225.0 202.42 L225.5 202.34 L226.0 202.26 L226.5 202.20 L227.0 202.15 L227.5 202.11 L228.0 202.10 L228.5 202.10 L229.0 202.11 L229.5 202.13 L230.0 202.15 L230.5 202.18 L231.0 202.22 L231.5 202.26 L232.0 202.30 L232.5 202.39 L233.0 202.57 L233.5 202.81 L234.0 203.10 L234.5 203.44 L235.0 203.79 L235.5 204.15 L236.0 204.50 L236.5 204.87 L237.0 205.30 L237.5 205.75 L238.0 206.20 L238.5 206.65 L239.0 207.12 L239.5 207.60 L240.0 208.10 L240.5 208.62 L241.0 209.16 L241.5 209.71 L242.0 210.28 L242.5 210.85 L243.0 211.43 L243.5 212.02 L244.0 212.60 L244.5 213.18 L245.0 213.76 L245.5 214.33 L246.0 214.91 L246.5 215.49 L247.0 216.08 L247.5 216.68 L248.0 217.26 L248.5 217.84 L249.0 218.41 L249.5 218.96 L250.0 219.49 L250.5 220.00 L251.0 220.49 L251.5 220.97 L252.0 221.44 L252.5 221.90 L253.0 222.34 L253.5 222.78 L254.0 223.20 L254.5 223.61 L255.0 224.00 L255.5 224.38 L256.0 224.74 L256.5 225.10 L257.0 225.44 L257.5 225.78 L258.0 226.11 L258.5 226.43 L259.0 226.73 L259.5 227.02 L260.0 227.30 L260.5 227.56 L261.0 227.80 L261.5 228.02 L262.0 228.23 L262.5 228.42 L263.0 228.60 L263.5 228.77 L264.0 228.94 L264.5 229.12 L265.0 229.29 L265.5 229.48 L266.0 229.67 L266.5 229.89 L267.0 230.11 L267.5 230.35 L268.0 230.59 L268.5 230.85 L269.0 231.10 L269.5 231.36 L270.0 231.63 L270.5 231.89 L271.0 232.15 L271.5 232.40 L272.0 232.65 L272.5 232.90 L273.0 233.14 L273.5 233.39 L274.0 233.64 L274.5 233.88 L275.0 234.14 L275.5 234.40 L276.0 234.66 L276.5 234.93 L277.0 235.21 L277.5 235.51 L278.0 235.82 L278.5 236.13 L279.0 236.45 L279.5 236.78 L280.0 237.11 L280.5 237.44 L281.0 237.76 L281.5 238.09 L282.0 238.40 L282.5 238.71 L283.0 239.02 L283.5 239.32 L284.0 239.62 L284.5 239.93 L285.0 240.23 L285.5 240.53 L286.0 240.83 L286.5 241.12 L287.0 241.42 L287.5 241.72 L288.0 242.02 L288.5 242.33 L289.0 242.64 L289.5 242.94 L290.0 243.25 L290.5 243.55 L291.0 243.84 L291.5 244.12 L292.0 244.39 L292.5 244.65 L293.0 244.89 L293.5 245.13 L294.0 245.36 L294.5 245.58 L295.0 245.80 L295.5 246.01 L296.0 246.21 L296.5 246.41 L297.0 246.60 L297.5 246.79 L298.0 246.97 L298.5 247.16 L299.0 247.34 L299.5 247.52 L300.0 247.69 L300.5 247.86 L301.0 248.02 L301.5 248.18 L302.0 248.32 L302.5 248.46 L303.0 248.58 L303.5 248.69 L304.0 248.79 L304.5 248.90 L305.0 249.00 L305.5 249.10 L306.0 249.19 L306.5 249.28 L307.0 249.36 L307.5 249.45 L308.0 249.52 L308.5 249.60 L309.0 249.67 L309.5 249.73 L310.0 249.79 L310.5 249.85 L311.0 249.90 L311.5 249.95 L312.0 250.00 L312.5 250.05 L313.0 250.10 L313.5 250.14 L314.0 250.19 L314.5 250.24 L315.0 250.28 L315.5 250.33 L316.0 250.37 L316.5 250.41 L317.0 250.45 L317.5 250.49 L318.0 250.53 L318.5 250.56 L319.0 250.59 L319.5 250.63 L320.0 250.66 L320.5 250.68 L321.0 250.71 L321.5 250.73 L322.0 250.75 L322.5 250.76 L323.0 250.78 L323.5 250.79 L324.0 250.80 L324.5 250.80" fill="none" stroke="#ff0000" stroke-width="1.30" stroke-linejoin="round"/>
<line x1="79.1" y1="14.70" x2="109.3" y2="14.70" stroke="#3a3a3a" stroke-width="1.4"/>
<line x1="79.1" y1="36.95" x2="109.3" y2="36.95" stroke="#f79646" stroke-width="1.4"/>
<line x1="79.1" y1="59.20" x2="109.3" y2="59.20" stroke="#4646ff" stroke-width="1.4"/>
<line x1="79.1" y1="81.45" x2="109.3" y2="81.45" stroke="#55b055" stroke-width="1.4"/>
<line x1="79.1" y1="103.70" x2="109.3" y2="103.70" stroke="#ff0000" stroke-width="1.4"/>
<rect x="404.5" y="2.5" width="248.0" height="249.0" fill="none" stroke="#888" stroke-width="1"/>
<line x1="399.5" y1="233.20" x2="404.5" y2="233.20" stroke="#8c8c8c" stroke-width="1"/>
<line x1="401.5" y1="197.69" x2="404.5" y2="197.69" stroke="#8c8c8c" stroke-width="1"/>
<line x1="399.5" y1="162.17" x2="404.5" y2="162.17" stroke="#8c8c8c" stroke-width="1"/>
<line x1="401.5" y1="126.65" x2="404.5" y2="126.65" stroke="#8c8c8c" stroke-width="1"/>
<line x1="399.5" y1="91.14" x2="404.5" y2="91.14" stroke="#8c8c8c" stroke-width="1"/>
<line x1="401.5" y1="55.62" x2="404.5" y2="55.62" stroke="#8c8c8c" stroke-width="1"/>
<line x1="399.5" y1="20.11" x2="404.5" y2="20.11" stroke="#8c8c8c" stroke-width="1"/>
<line x1="429.40" y1="251.5" x2="429.40" y2="256.5" stroke="#8c8c8c" stroke-width="1"/>
<line x1="478.85" y1="251.5" x2="478.85" y2="256.5" stroke="#8c8c8c" stroke-width="1"/>
<line x1="528.30" y1="251.5" x2="528.30" y2="256.5" stroke="#8c8c8c" stroke-width="1"/>
<line x1="577.75" y1="251.5" x2="577.75" y2="256.5" stroke="#8c8c8c" stroke-width="1"/>
<line x1="627.20" y1="251.5" x2="627.20" y2="256.5" stroke="#8c8c8c" stroke-width="1"/>
<polyline points="429.40,233.20 478.85,66.00 528.30,21.67 577.75,41.42 627.20,232.13" fill="none" stroke="#333" stroke-width="1"/>
<polyline points="429.40,144.98 478.85,93.70 528.30,85.10 577.75,158.62 627.20,223.61" fill="none" stroke="#ff0000" stroke-width="1"/>
<rect x="426.70" y="230.50" width="5.4" height="5.4" fill="#333"/>
<rect x="476.15" y="63.30" width="5.4" height="5.4" fill="#333"/>
<rect x="525.60" y="18.97" width="5.4" height="5.4" fill="#333"/>
<rect x="575.05" y="38.72" width="5.4" height="5.4" fill="#333"/>
<rect x="624.50" y="229.43" width="5.4" height="5.4" fill="#333"/>
<circle cx="429.40" cy="144.98" r="3.1" fill="#ff0000"/>
<circle cx="478.85" cy="93.70" r="3.1" fill="#ff0000"/>
<circle cx="528.30" cy="85.10" r="3.1" fill="#ff0000"/>
<circle cx="577.75" cy="158.62" r="3.1" fill="#ff0000"/>
<circle cx="627.20" cy="223.61" r="3.1" fill="#ff0000"/>
<line x1="412.3" y1="19.5" x2="442.2" y2="19.5" stroke="#333" stroke-width="1"/>
<rect x="425" y="16.7" width="5.4" height="5.4" fill="#333"/>
<line x1="412.3" y1="40.5" x2="442.2" y2="40.5" stroke="#ff0000" stroke-width="1"/>
<circle cx="427.3" cy="40" r="3.1" fill="#ff0000"/>
<path d="M83.6 402.4 L90.0 409.0 L87.0 409.0 L87.0 430.5 L80.6 430.5 L80.6 409.0 L77.3 409.0 Z" fill="#4f81bd" stroke="#3a6192" stroke-width="0.9" stroke-linejoin="miter"/>
<path d="M189.5 402.4 L196.1 409.0 L192.9 409.0 L192.9 430.7 L186.5 430.7 L186.5 409.0 L183.2 409.0 Z" fill="#4f81bd" stroke="#3a6192" stroke-width="0.9" stroke-linejoin="miter"/>
<path d="M327.1 404.1 L333.3 410.1 L330.1 410.1 L330.1 432.0 L324.1 432.0 L324.1 410.1 L320.9 410.1 Z" fill="#4f81bd" stroke="#3a6192" stroke-width="0.9" stroke-linejoin="miter"/>
<path d="M466.5 406.9 L472.8 413.5 L470.0 413.5 L470.0 434.9 L463.2 434.9 L463.2 413.5 L460.0 413.5 Z" fill="#4f81bd" stroke="#3a6192" stroke-width="0.9" stroke-linejoin="miter"/>
<path d="M617.5 404.4 L623.9 410.9 L620.5 410.9 L620.5 432.4 L614.1 432.4 L614.1 410.9 L610.9 410.9 Z" fill="#4f81bd" stroke="#3a6192" stroke-width="0.9" stroke-linejoin="miter"/>
<line x1="57.9" y1="390.6" x2="128.6" y2="391.8" stroke="#a8a8a8" stroke-width="1.0" stroke-linecap="round"/>
<path d="M67.01 356.28 L67.44 355.29 L68.00 354.37 L68.68 353.56 L69.45 352.86 L70.30 352.30 L71.22 351.89 L72.20 351.63 L73.20 351.54 L74.23 351.60 L75.25 351.82 L76.27 352.18 L77.26 352.67 L78.21 353.26 L79.10 353.95 L79.93 354.72 L80.69 355.53 L81.35 356.38 L81.91 357.25 L82.37 358.11 L82.71 358.96 L82.93 359.78 L83.02 360.57 L82.97 361.32 L82.79 362.02 L82.48 362.68 L82.03 363.28 L81.46 363.83 L80.76 364.32 L79.95 364.75 L79.05 365.12 L78.06 365.42 L77.01 365.64 L75.91 365.78 L74.78 365.83 L73.65 365.79 L72.54 365.63 L71.47 365.37 L70.46 364.99 L69.53 364.50 L68.71 363.89 L67.99 363.17 L67.41 362.35 L66.97 361.44 L66.68 360.47 L66.54 359.44 L66.55 358.38 L66.70 357.32Z" fill="url(#gR)"/>
<path d="M96.00 358.52 L96.31 359.55 L96.50 360.61 L96.54 361.65 L96.46 362.66 L96.23 363.62 L95.87 364.49 L95.38 365.28 L94.78 365.96 L94.06 366.53 L93.25 366.98 L92.36 367.32 L91.41 367.53 L90.42 367.64 L89.41 367.64 L88.40 367.55 L87.41 367.37 L86.46 367.11 L85.57 366.78 L84.74 366.38 L84.00 365.92 L83.36 365.41 L82.83 364.85 L82.40 364.24 L82.10 363.58 L81.91 362.88 L81.84 362.14 L81.89 361.37 L82.05 360.56 L82.32 359.74 L82.70 358.90 L83.17 358.07 L83.73 357.26 L84.38 356.49 L85.09 355.77 L85.86 355.12 L86.69 354.57 L87.56 354.12 L88.45 353.81 L89.36 353.63 L90.28 353.61 L91.18 353.74 L92.06 354.03 L92.90 354.47 L93.69 355.05 L94.40 355.77 L95.04 356.60 L95.58 357.53Z" fill="url(#gG)"/>
<path d="M94.16 378.85 L93.49 379.89 L92.71 380.82 L91.84 381.64 L90.91 382.32 L89.93 382.84 L88.92 383.19 L87.91 383.35 L86.89 383.34 L85.91 383.15 L84.95 382.80 L84.05 382.29 L83.20 381.64 L82.42 380.88 L81.72 380.02 L81.10 379.09 L80.56 378.11 L80.13 377.10 L79.79 376.09 L79.56 375.09 L79.44 374.12 L79.44 373.19 L79.55 372.32 L79.78 371.50 L80.14 370.75 L80.61 370.07 L81.20 369.46 L81.90 368.92 L82.71 368.46 L83.61 368.08 L84.59 367.78 L85.63 367.57 L86.72 367.44 L87.84 367.41 L88.95 367.49 L90.05 367.67 L91.10 367.96 L92.08 368.37 L92.98 368.90 L93.76 369.55 L94.42 370.31 L94.94 371.18 L95.30 372.14 L95.50 373.19 L95.54 374.29 L95.42 375.44 L95.15 376.60 L94.72 377.75Z" fill="url(#gR)"/>
<ellipse cx="75.8" cy="382.5" rx="2.48" ry="6.48" fill="url(#gG)"/>
<path d="M65.39 370.11 L65.85 369.06 L66.44 368.09 L67.16 367.23 L67.97 366.49 L68.88 365.90 L69.85 365.46 L70.88 365.19 L71.95 365.09 L73.03 365.16 L74.12 365.39 L75.20 365.77 L76.25 366.29 L77.25 366.92 L78.20 367.65 L79.08 368.46 L79.88 369.33 L80.58 370.22 L81.18 371.14 L81.66 372.05 L82.02 372.95 L82.26 373.82 L82.35 374.66 L82.30 375.45 L82.11 376.19 L81.78 376.89 L81.31 377.52 L80.70 378.10 L79.96 378.62 L79.11 379.08 L78.15 379.47 L77.10 379.78 L75.99 380.02 L74.82 380.17 L73.63 380.22 L72.43 380.17 L71.25 380.01 L70.12 379.73 L69.05 379.33 L68.07 378.81 L67.19 378.16 L66.44 377.40 L65.82 376.53 L65.35 375.57 L65.04 374.54 L64.89 373.45 L64.90 372.33 L65.07 371.20Z" fill="url(#gG)"/>
<ellipse cx="64.6" cy="386.8" rx="3.56" ry="2.70" fill="url(#gR)"/>
<ellipse cx="64.6" cy="394.4" rx="3.56" ry="2.48" fill="url(#gG)"/>
<circle cx="57.9" cy="390.6" r="2.2" fill="url(#gH)"/>
<circle cx="63.5" cy="390.3" r="2.8" fill="url(#gN)"/>
<circle cx="66.0" cy="390.0" r="2.3" fill="url(#gC)"/>
<circle cx="73.1" cy="390.8" r="2.6" fill="url(#gN)"/>
<ellipse cx="74.9" cy="393.8" rx="2.16" ry="1.62" fill="url(#gR)"/>
<circle cx="75.6" cy="390.6" r="2.6" fill="url(#gC)"/>
<circle cx="83.6" cy="391.1" r="3.0" fill="url(#gN)"/>
<ellipse cx="93.5" cy="387.3" rx="3.56" ry="2.70" fill="url(#gG)"/>
<ellipse cx="94.1" cy="395.3" rx="2.70" ry="2.16" fill="url(#gR)"/>
<circle cx="93.0" cy="391.4" r="2.8" fill="url(#gC)"/>
<circle cx="102.9" cy="391.4" r="3.0" fill="url(#gN)"/>
<circle cx="112.2" cy="391.4" r="2.8" fill="url(#gC)"/>
<circle cx="121.6" cy="391.4" r="2.8" fill="url(#gN)"/>
<circle cx="121.6" cy="391.4" r="1.8" fill="url(#gC)"/>
<circle cx="128.6" cy="391.8" r="2.2" fill="url(#gH)"/>
<line x1="57.9" y1="461.3" x2="122.4" y2="462.3" stroke="#a8a8a8" stroke-width="1.0" stroke-linecap="round"/>
<line x1="76.0" y1="462.0" x2="104.0" y2="462.3" stroke="#2a2ad0" stroke-width="1.6" stroke-linecap="round"/>
<circle cx="74.3" cy="438.9" r="2.9" fill="url(#gO)"/>
<circle cx="81.9" cy="440.2" r="2.9" fill="url(#gO)"/>
<ellipse cx="70.0" cy="455.3" rx="6.70" ry="6.05" fill="url(#gG)"/>
<ellipse cx="109.1" cy="455.7" rx="6.37" ry="6.26" fill="url(#gR)"/>
<ellipse cx="80.5" cy="455.4" rx="8.10" ry="6.48" fill="url(#gR)"/>
<ellipse cx="99.3" cy="455.6" rx="8.53" ry="6.37" fill="url(#gG)"/>
<ellipse cx="70.0" cy="467.4" rx="6.70" ry="6.37" fill="url(#gR)"/>
<ellipse cx="108.8" cy="468.1" rx="6.70" ry="6.37" fill="url(#gG)"/>
<ellipse cx="80.2" cy="467.7" rx="8.53" ry="6.80" fill="url(#gG)"/>
<ellipse cx="99.0" cy="467.7" rx="8.10" ry="6.80" fill="url(#gR)"/>
<circle cx="57.9" cy="461.3" r="2.0" fill="url(#gH)"/>
<circle cx="64.0" cy="461.0" r="2.6" fill="url(#gN)"/>
<circle cx="64.0" cy="461.0" r="1.6" fill="url(#gC)"/>
<circle cx="72.5" cy="462.0" r="2.5" fill="url(#gC)"/>
<circle cx="89.5" cy="462.5" r="2.8" fill="url(#gC)"/>
<circle cx="106.8" cy="462.0" r="2.5" fill="url(#gC)"/>
<circle cx="115.5" cy="461.8" r="2.6" fill="url(#gN)"/>
<circle cx="115.5" cy="461.8" r="1.6" fill="url(#gC)"/>
<circle cx="122.4" cy="462.3" r="2.0" fill="url(#gH)"/>
<line x1="152.7" y1="394.6" x2="177.3" y2="389.6" stroke="#a8a8a8" stroke-width="1.0" stroke-linecap="round"/>
<line x1="177.3" y1="389.6" x2="204.0" y2="391.1" stroke="#a8a8a8" stroke-width="1.0" stroke-linecap="round"/>
<line x1="204.0" y1="391.1" x2="230.0" y2="391.1" stroke="#a8a8a8" stroke-width="1.0" stroke-linecap="round"/>
<line x1="216.4" y1="381.2" x2="222.0" y2="391.7" stroke="#a8a8a8" stroke-width="1.0" stroke-linecap="round"/>
<line x1="222.0" y1="391.7" x2="220.1" y2="402.9" stroke="#a8a8a8" stroke-width="1.0" stroke-linecap="round"/>
<path d="M180.36 354.50 L181.04 353.64 L181.81 352.87 L182.64 352.23 L183.53 351.71 L184.46 351.34 L185.40 351.13 L186.33 351.08 L187.25 351.19 L188.14 351.45 L188.99 351.86 L189.78 352.41 L190.52 353.07 L191.18 353.82 L191.77 354.66 L192.28 355.55 L192.70 356.48 L193.04 357.42 L193.28 358.36 L193.43 359.28 L193.48 360.16 L193.43 360.99 L193.27 361.76 L193.01 362.46 L192.64 363.10 L192.17 363.67 L191.60 364.15 L190.92 364.56 L190.16 364.90 L189.32 365.15 L188.41 365.32 L187.44 365.41 L186.44 365.42 L185.43 365.34 L184.41 365.17 L183.43 364.90 L182.48 364.53 L181.61 364.07 L180.83 363.51 L180.16 362.86 L179.60 362.11 L179.19 361.28 L178.92 360.39 L178.79 359.43 L178.82 358.44 L179.00 357.43 L179.33 356.42 L179.78 355.43Z" fill="url(#gR)"/>
<path d="M207.74 354.80 L208.32 355.73 L208.77 356.72 L209.10 357.73 L209.28 358.74 L209.31 359.73 L209.18 360.69 L208.91 361.58 L208.50 362.41 L207.94 363.16 L207.27 363.81 L206.49 364.37 L205.62 364.83 L204.67 365.20 L203.69 365.47 L202.67 365.64 L201.66 365.72 L200.66 365.71 L199.69 365.62 L198.78 365.45 L197.94 365.20 L197.18 364.86 L196.50 364.45 L195.93 363.97 L195.46 363.40 L195.09 362.76 L194.83 362.06 L194.67 361.29 L194.62 360.46 L194.67 359.58 L194.82 358.66 L195.06 357.72 L195.40 356.78 L195.82 355.85 L196.33 354.96 L196.92 354.12 L197.58 353.37 L198.32 352.71 L199.11 352.16 L199.96 351.75 L200.85 351.49 L201.77 351.38 L202.70 351.43 L203.64 351.64 L204.57 352.01 L205.46 352.53 L206.29 353.17 L207.06 353.94Z" fill="url(#gG)"/>
<path d="M193.6 368.5 C193.6 365.8 195.5 365.3 198 365.3 L205.5 365.3 C208.5 365.6 209.6 367.5 209.4 371.5 C209 378.5 206 383.5 202 387 C199.5 389 196.5 388.8 195 386.5 C193.8 384 193.5 380 193.6 368.5 Z" fill="url(#gR)"/>
<ellipse cx="190.5" cy="380.5" rx="3.24" ry="3.78" fill="url(#gG)"/>
<path d="M179.33 367.75 L179.93 366.84 L180.64 366.02 L181.42 365.31 L182.26 364.74 L183.15 364.31 L184.07 364.05 L185.00 363.95 L185.93 364.02 L186.84 364.25 L187.72 364.64 L188.56 365.16 L189.35 365.80 L190.08 366.54 L190.75 367.35 L191.35 368.23 L191.87 369.13 L192.31 370.04 L192.67 370.94 L192.93 371.82 L193.09 372.66 L193.15 373.45 L193.10 374.18 L192.94 374.85 L192.67 375.45 L192.28 375.99 L191.78 376.46 L191.17 376.86 L190.46 377.21 L189.66 377.49 L188.77 377.70 L187.81 377.85 L186.80 377.92 L185.75 377.92 L184.70 377.84 L183.66 377.67 L182.65 377.40 L181.70 377.04 L180.83 376.57 L180.06 376.00 L179.40 375.33 L178.88 374.56 L178.50 373.71 L178.27 372.78 L178.19 371.80 L178.26 370.78 L178.48 369.75 L178.84 368.73Z" fill="url(#gG)"/>
<ellipse cx="175.4" cy="381.8" rx="4.32" ry="3.56" fill="url(#gR)"/>
<ellipse cx="186.0" cy="390.5" rx="3.78" ry="2.70" fill="url(#gR)"/>
<circle cx="152.7" cy="394.6" r="2.2" fill="url(#gH)"/>
<circle cx="159.7" cy="394.2" r="2.8" fill="url(#gN)"/>
<circle cx="166.7" cy="388.6" r="2.8" fill="url(#gN)"/>
<circle cx="168.6" cy="390.8" r="2.6" fill="url(#gC)"/>
<ellipse cx="174.2" cy="389.2" rx="3.24" ry="3.24" fill="url(#gG)"/>
<circle cx="177.3" cy="389.6" r="2.8" fill="url(#gN)"/>
<circle cx="185.4" cy="381.8" r="2.5" fill="url(#gN)"/>
<circle cx="186.0" cy="385.9" r="3.3" fill="url(#gC)"/>
<circle cx="193.7" cy="381.8" r="2.5" fill="url(#gH)"/>
<circle cx="195.3" cy="381.8" r="2.8" fill="url(#gN)"/>
<ellipse cx="195.3" cy="393.6" rx="5.94" ry="3.78" fill="url(#gG)"/>
<ellipse cx="205.2" cy="395.4" rx="3.24" ry="2.48" fill="url(#gR)"/>
<circle cx="204.0" cy="391.1" r="2.8" fill="url(#gN)"/>
<ellipse cx="212.0" cy="386.1" rx="5.40" ry="3.78" fill="url(#gG)" transform="rotate(-25.0 212.0 386.1)"/>
<circle cx="210.8" cy="378.7" r="2.2" fill="url(#gH)"/>
<circle cx="222.6" cy="375.6" r="2.2" fill="url(#gH)"/>
<circle cx="216.4" cy="381.2" r="2.8" fill="url(#gN)"/>
<ellipse cx="214.5" cy="392.3" rx="3.78" ry="3.24" fill="url(#gR)"/>
<ellipse cx="222.6" cy="389.9" rx="3.24" ry="2.70" fill="url(#gR)"/>
<circle cx="222.0" cy="391.7" r="2.8" fill="url(#gN)"/>
<circle cx="230.0" cy="391.1" r="2.2" fill="url(#gH)"/>
<circle cx="221.3" cy="397.3" r="2.6" fill="url(#gC)"/>
<circle cx="220.1" cy="402.9" r="2.8" fill="url(#gN)"/>
<line x1="157.7" y1="469.4" x2="215.0" y2="462.5" stroke="#a8a8a8" stroke-width="1.0" stroke-linecap="round"/>
<line x1="215.0" y1="462.5" x2="217.3" y2="456.2" stroke="#a8a8a8" stroke-width="1.0" stroke-linecap="round"/>
<line x1="215.0" y1="462.5" x2="223.0" y2="466.4" stroke="#a8a8a8" stroke-width="1.0" stroke-linecap="round"/>
<line x1="223.0" y1="466.4" x2="221.8" y2="471.6" stroke="#a8a8a8" stroke-width="1.0" stroke-linecap="round"/>
<line x1="221.8" y1="471.6" x2="221.3" y2="476.7" stroke="#a8a8a8" stroke-width="1.0" stroke-linecap="round"/>
<circle cx="192.0" cy="440.5" r="3.0" fill="url(#gO)"/>
<circle cx="200.8" cy="441.2" r="3.0" fill="url(#gO)"/>
<ellipse cx="162.0" cy="463.9" rx="6.16" ry="4.64" fill="url(#gG)"/>
<ellipse cx="170.6" cy="457.0" rx="7.02" ry="6.48" fill="url(#gG)"/>
<ellipse cx="164.7" cy="473.4" rx="6.05" ry="5.40" fill="url(#gR)"/>
<ellipse cx="194.3" cy="451.7" rx="8.32" ry="8.32" fill="url(#gG)"/>
<ellipse cx="178.9" cy="457.6" rx="8.86" ry="7.88" fill="url(#gR)"/>
<ellipse cx="207.5" cy="467.0" rx="4.32" ry="4.32" fill="url(#gG)"/>
<ellipse cx="200.0" cy="461.0" rx="10.80" ry="7.34" fill="url(#gR)" transform="rotate(-22.0 200.0 461.0)"/>
<ellipse cx="183.0" cy="470.2" rx="11.02" ry="7.13" fill="url(#gG)" transform="rotate(-8.0 183.0 470.2)"/>
<circle cx="157.7" cy="469.4" r="2.0" fill="url(#gH)"/>
<circle cx="164.7" cy="469.0" r="2.2" fill="url(#gH)"/>
<circle cx="196.2" cy="456.6" r="2.2" fill="url(#gH)"/>
<circle cx="212.2" cy="454.2" r="2.0" fill="url(#gH)"/>
<circle cx="223.4" cy="450.8" r="2.0" fill="url(#gH)"/>
<circle cx="217.3" cy="456.2" r="2.8" fill="url(#gN)"/>
<circle cx="215.0" cy="462.5" r="2.6" fill="url(#gC)"/>
<circle cx="223.0" cy="466.4" r="2.8" fill="url(#gN)"/>
<circle cx="230.5" cy="465.4" r="2.0" fill="url(#gH)"/>
<circle cx="221.8" cy="471.6" r="2.6" fill="url(#gC)"/>
<circle cx="221.3" cy="476.7" r="2.8" fill="url(#gN)"/>
<line x1="267.4" y1="378.2" x2="389.9" y2="377.5" stroke="#2a2ad0" stroke-width="2.6" stroke-linecap="round"/>
<ellipse cx="277.9" cy="372.3" rx="6.63" ry="5.50" fill="url(#gR)"/>
<ellipse cx="292.2" cy="370.2" rx="6.96" ry="5.73" fill="url(#gG)"/>
<ellipse cx="310.0" cy="369.7" rx="5.62" ry="4.49" fill="url(#gR)"/>
<ellipse cx="283.5" cy="374.3" rx="6.96" ry="5.73" fill="url(#gG)"/>
<ellipse cx="302.4" cy="374.8" rx="7.75" ry="6.29" fill="url(#gR)"/>
<ellipse cx="315.7" cy="373.3" rx="7.64" ry="6.29" fill="url(#gG)"/>
<ellipse cx="276.9" cy="384.0" rx="5.62" ry="5.50" fill="url(#gG)"/>
<ellipse cx="292.7" cy="384.5" rx="5.62" ry="5.05" fill="url(#gR)"/>
<ellipse cx="283.5" cy="386.0" rx="7.19" ry="6.07" fill="url(#gR)"/>
<ellipse cx="301.9" cy="386.6" rx="8.09" ry="6.63" fill="url(#gG)"/>
<ellipse cx="315.7" cy="385.0" rx="7.75" ry="6.29" fill="url(#gR)"/>
<circle cx="267.4" cy="376.6" r="2.2" fill="url(#gH)"/>
<circle cx="273.0" cy="377.5" r="2.3" fill="url(#gN)"/>
<circle cx="289.6" cy="381.5" r="2.6" fill="url(#gN)"/>
<circle cx="281.5" cy="381.7" r="2.2" fill="url(#gH)"/>
<circle cx="295.5" cy="382.3" r="2.2" fill="url(#gH)"/>
<circle cx="300.0" cy="379.0" r="1.8" fill="url(#gN)"/>
<circle cx="310.0" cy="379.0" r="1.8" fill="url(#gN)"/>
<circle cx="325.4" cy="376.9" r="3.0" fill="url(#gO)"/>
<circle cx="325.4" cy="386.8" r="3.0" fill="url(#gO)"/>
<circle cx="328.6" cy="377.4" r="2.6" fill="url(#gN)"/>
<ellipse cx="346.0" cy="370.2" rx="6.63" ry="4.61" fill="url(#gG)"/>
<ellipse cx="337.8" cy="373.3" rx="6.74" ry="6.29" fill="url(#gR)"/>
<ellipse cx="349.5" cy="375.3" rx="7.75" ry="6.07" fill="url(#gG)"/>
<ellipse cx="364.3" cy="370.2" rx="7.19" ry="5.73" fill="url(#gR)"/>
<ellipse cx="377.1" cy="372.8" rx="6.96" ry="5.73" fill="url(#gG)"/>
<ellipse cx="367.9" cy="374.8" rx="7.53" ry="6.07" fill="url(#gR)"/>
<ellipse cx="337.8" cy="385.0" rx="7.30" ry="5.73" fill="url(#gG)"/>
<ellipse cx="377.6" cy="384.0" rx="5.73" ry="5.73" fill="url(#gR)"/>
<ellipse cx="349.5" cy="386.6" rx="7.53" ry="6.29" fill="url(#gR)"/>
<ellipse cx="369.0" cy="386.0" rx="7.53" ry="5.73" fill="url(#gG)"/>
<circle cx="343.0" cy="379.0" r="1.8" fill="url(#gN)"/>
<circle cx="375.0" cy="378.5" r="1.8" fill="url(#gN)"/>
<circle cx="354.0" cy="383.0" r="2.2" fill="url(#gH)"/>
<circle cx="360.5" cy="381.7" r="2.6" fill="url(#gN)"/>
<circle cx="368.0" cy="382.5" r="2.2" fill="url(#gH)"/>
<circle cx="382.7" cy="376.4" r="2.6" fill="url(#gN)"/>
<circle cx="389.9" cy="376.4" r="2.2" fill="url(#gH)"/>
<line x1="264.6" y1="459.5" x2="327.0" y2="460.5" stroke="#2a2ad0" stroke-width="2.6" stroke-linecap="round"/>
<line x1="327.0" y1="460.5" x2="360.0" y2="462.0" stroke="#2a2ad0" stroke-width="3.0" stroke-linecap="round"/>
<line x1="360.0" y1="462.0" x2="389.4" y2="458.2" stroke="#2a2ad0" stroke-width="3.0" stroke-linecap="round"/>
<ellipse cx="270.75" cy="452.50" rx="3.83" ry="3.02" fill="url(#gG)"/>
<ellipse cx="278.15" cy="455.60" rx="5.78" ry="3.56" fill="url(#gG)"/>
<ellipse cx="282.95" cy="452.80" rx="7.18" ry="4.97" fill="url(#gR)"/>
<ellipse cx="317.75" cy="451.50" rx="7.18" ry="6.37" fill="url(#gR)"/>
<ellipse cx="306.25" cy="452.25" rx="11.83" ry="6.10" fill="url(#gG)"/>
<ellipse cx="292.20" cy="455.60" rx="9.40" ry="5.83" fill="url(#gR)"/>
<ellipse cx="287.10" cy="458.90" rx="3.89" ry="2.81" fill="url(#gG)"/>
<ellipse cx="270.50" cy="462.45" rx="3.02" ry="2.75" fill="url(#gR)"/>
<ellipse cx="275.35" cy="464.55" rx="3.83" ry="3.29" fill="url(#gR)"/>
<ellipse cx="286.60" cy="467.60" rx="4.43" ry="3.35" fill="url(#gR)"/>
<ellipse cx="319.30" cy="466.05" rx="5.51" ry="6.64" fill="url(#gG)"/>
<ellipse cx="294.50" cy="467.60" rx="9.07" ry="5.51" fill="url(#gG)"/>
<ellipse cx="308.55" cy="467.10" rx="9.34" ry="6.05" fill="url(#gR)"/>
<circle cx="264.6" cy="458.4" r="2.2" fill="url(#gH)"/>
<circle cx="270.0" cy="459.3" r="2.0" fill="url(#gN)"/>
<circle cx="276.0" cy="460.0" r="2.0" fill="url(#gN)"/>
<circle cx="279.5" cy="463.0" r="2.2" fill="url(#gH)"/>
<circle cx="286.0" cy="461.0" r="2.0" fill="url(#gN)"/>
<circle cx="293.0" cy="462.5" r="2.2" fill="url(#gH)"/>
<circle cx="300.0" cy="460.5" r="2.0" fill="url(#gN)"/>
<circle cx="313.0" cy="460.5" r="2.0" fill="url(#gN)"/>
<circle cx="323.9" cy="457.9" r="3.0" fill="url(#gO)"/>
<circle cx="323.9" cy="467.8" r="3.0" fill="url(#gO)"/>
<ellipse cx="334.45" cy="451.25" rx="6.86" ry="6.10" fill="url(#gG)"/>
<ellipse cx="352.05" cy="450.70" rx="6.64" ry="4.43" fill="url(#gR)"/>
<ellipse cx="341.35" cy="454.55" rx="8.80" ry="5.78" fill="url(#gR)"/>
<ellipse cx="369.70" cy="452.55" rx="6.91" ry="4.70" fill="url(#gG)"/>
<ellipse cx="354.10" cy="455.60" rx="9.40" ry="5.83" fill="url(#gG)"/>
<ellipse cx="359.7" cy="459.4" rx="4.08" ry="3.50" fill="url(#gR)"/>
<ellipse cx="367.9" cy="456.9" rx="4.08" ry="3.50" fill="url(#gR)"/>
<ellipse cx="374.6" cy="455.3" rx="4.08" ry="3.50" fill="url(#gR)"/>
<ellipse cx="382.7" cy="452.8" rx="4.08" ry="3.50" fill="url(#gR)"/>
<ellipse cx="332.15" cy="466.05" rx="4.37" ry="6.64" fill="url(#gR)"/>
<ellipse cx="340.85" cy="467.10" rx="8.80" ry="6.05" fill="url(#gG)"/>
<ellipse cx="352.30" cy="467.60" rx="6.91" ry="5.51" fill="url(#gR)"/>
<ellipse cx="359.7" cy="467.6" rx="3.50" ry="3.50" fill="url(#gG)"/>
<ellipse cx="369.0" cy="465.5" rx="4.67" ry="3.50" fill="url(#gG)"/>
<ellipse cx="375.1" cy="464.0" rx="4.08" ry="3.50" fill="url(#gG)"/>
<ellipse cx="383.2" cy="462.0" rx="4.08" ry="3.50" fill="url(#gG)"/>
<circle cx="327.5" cy="459.0" r="2.4" fill="url(#gN)"/>
<circle cx="338.0" cy="460.0" r="2.0" fill="url(#gN)"/>
<circle cx="347.0" cy="461.0" r="2.0" fill="url(#gN)"/>
<circle cx="353.0" cy="463.0" r="2.2" fill="url(#gH)"/>
<circle cx="359.0" cy="462.5" r="2.0" fill="url(#gN)"/>
<circle cx="367.0" cy="462.0" r="2.2" fill="url(#gH)"/>
<circle cx="374.0" cy="460.5" r="2.0" fill="url(#gN)"/>
<circle cx="381.0" cy="459.5" r="2.0" fill="url(#gN)"/>
<circle cx="389.4" cy="458.2" r="2.2" fill="url(#gH)"/>
<line x1="416.6" y1="382.8" x2="478.0" y2="382.8" stroke="#2a2ad0" stroke-width="2.0" stroke-linecap="round"/>
<line x1="477.9" y1="382.8" x2="522.0" y2="392.2" stroke="#a8a8a8" stroke-width="1.0" stroke-linecap="round"/>
<line x1="518.9" y1="371.2" x2="538.2" y2="377.3" stroke="#a8a8a8" stroke-width="1.0" stroke-linecap="round"/>
<ellipse cx="422.50" cy="377.70" rx="3.80" ry="3.30" fill="url(#gG)"/>
<ellipse cx="422.50" cy="386.50" rx="3.80" ry="3.20" fill="url(#gR)"/>
<ellipse cx="434.80" cy="376.70" rx="5.90" ry="4.80" fill="url(#gR)"/>
<ellipse cx="434.70" cy="378.60" rx="4.90" ry="2.60" fill="url(#gG)"/>
<ellipse cx="434.55" cy="388.85" rx="6.15" ry="3.35" fill="url(#gG)"/>
<ellipse cx="434.85" cy="386.50" rx="5.35" ry="2.70" fill="url(#gR)"/>
<ellipse cx="450.50" cy="375.95" rx="5.50" ry="4.55" fill="url(#gR)"/>
<ellipse cx="453.15" cy="376.65" rx="6.65" ry="4.65" fill="url(#gG)"/>
<ellipse cx="452.45" cy="389.10" rx="7.15" ry="4.10" fill="url(#gG)"/>
<ellipse cx="452.50" cy="387.25" rx="5.00" ry="3.25" fill="url(#gR)"/>
<ellipse cx="464.00" cy="378.00" rx="5.00" ry="6.00" fill="url(#gG)"/>
<ellipse cx="469.30" cy="376.90" rx="7.30" ry="7.10" fill="url(#gR)"/>
<ellipse cx="465.00" cy="378.50" rx="4.50" ry="5.00" fill="url(#gG)"/>
<ellipse cx="467.20" cy="388.85" rx="8.20" ry="4.85" fill="url(#gR)"/>
<circle cx="416.6" cy="382.8" r="2.2" fill="url(#gH)"/>
<circle cx="422.5" cy="382.5" r="2.5" fill="url(#gN)"/>
<circle cx="430.0" cy="383.0" r="2.2" fill="url(#gN)"/>
<circle cx="437.0" cy="382.8" r="2.2" fill="url(#gH)"/>
<circle cx="441.0" cy="383.0" r="2.2" fill="url(#gN)"/>
<circle cx="446.0" cy="383.5" r="2.5" fill="url(#gH)"/>
<circle cx="452.5" cy="383.0" r="2.5" fill="url(#gN)"/>
<circle cx="459.0" cy="383.5" r="2.5" fill="url(#gH)"/>
<circle cx="464.0" cy="383.0" r="2.2" fill="url(#gN)"/>
<circle cx="471.0" cy="383.0" r="2.2" fill="url(#gN)"/>
<ellipse cx="480.40" cy="358.35" rx="7.10" ry="6.65" fill="url(#gR)"/>
<ellipse cx="483.50" cy="360.40" rx="7.30" ry="6.40" fill="url(#gG)"/>
<ellipse cx="482.65" cy="374.50" rx="4.85" ry="8.00" fill="url(#gG)"/>
<ellipse cx="498.00" cy="375.75" rx="7.50" ry="7.25" fill="url(#gR)"/>
<ellipse cx="489.50" cy="370.75" rx="8.00" ry="8.25" fill="url(#gR)"/>
<ellipse cx="509.25" cy="374.35" rx="6.75" ry="4.85" fill="url(#gG)"/>
<ellipse cx="499.25" cy="383.80" rx="5.75" ry="4.60" fill="url(#gG)"/>
<ellipse cx="512.35" cy="383.30" rx="6.85" ry="4.10" fill="url(#gR)"/>
<ellipse cx="481.5" cy="385.9" rx="3.24" ry="2.70" fill="url(#gR)"/>
<ellipse cx="502.9" cy="388.4" rx="3.24" ry="2.70" fill="url(#gR)"/>
<ellipse cx="485.5" cy="391.5" rx="3.24" ry="2.70" fill="url(#gG)"/>
<circle cx="477.9" cy="382.8" r="2.8" fill="url(#gN)"/>
<circle cx="482.5" cy="386.4" r="2.2" fill="url(#gH)"/>
<circle cx="487.6" cy="387.9" r="2.5" fill="url(#gN)"/>
<circle cx="491.2" cy="384.9" r="2.5" fill="url(#gN)"/>
<circle cx="505.0" cy="385.9" r="2.5" fill="url(#gN)"/>
<circle cx="497.4" cy="394.0" r="2.2" fill="url(#gH)"/>
<circle cx="501.8" cy="391.8" r="2.5" fill="url(#gN)"/>
<circle cx="512.8" cy="391.8" r="3.0" fill="url(#gC)"/>
<circle cx="522.0" cy="392.2" r="3.3" fill="url(#gN)"/>
<circle cx="518.9" cy="371.2" r="3.5" fill="url(#gN)"/>
<circle cx="518.5" cy="376.0" r="3.0" fill="url(#gC)"/>
<circle cx="527.7" cy="368.1" r="2.2" fill="url(#gH)"/>
<ellipse cx="525.9" cy="372.5" rx="3.24" ry="2.16" fill="url(#gR)"/>
<circle cx="525.9" cy="375.6" r="2.5" fill="url(#gN)"/>
<ellipse cx="526.3" cy="380.0" rx="3.78" ry="2.70" fill="url(#gG)"/>
<circle cx="531.2" cy="378.2" r="3.3" fill="url(#gN)"/>
<circle cx="538.2" cy="377.3" r="2.6" fill="url(#gH)"/>
<line x1="410.7" y1="466.9" x2="485.7" y2="472.0" stroke="#a8a8a8" stroke-width="1.0" stroke-linecap="round"/>
<line x1="485.7" y1="472.0" x2="522.7" y2="476.3" stroke="#a8a8a8" stroke-width="1.0" stroke-linecap="round"/>
<circle cx="481.7" cy="445.4" r="3.0" fill="url(#gO)"/>
<circle cx="485.2" cy="447.9" r="3.0" fill="url(#gO)"/>
<circle cx="410.7" cy="466.9" r="2.0" fill="url(#gH)"/>
<circle cx="417.7" cy="465.9" r="3.0" fill="url(#gN)"/>
<circle cx="427.5" cy="466.9" r="3.0" fill="url(#gN)"/>
<circle cx="436.7" cy="466.9" r="3.0" fill="url(#gN)"/>
<circle cx="441.4" cy="467.9" r="2.2" fill="url(#gH)"/>
<circle cx="447.9" cy="467.9" r="3.0" fill="url(#gN)"/>
<circle cx="452.0" cy="467.5" r="2.2" fill="url(#gH)"/>
<circle cx="457.1" cy="467.5" r="3.0" fill="url(#gN)"/>
<circle cx="466.3" cy="467.9" r="3.0" fill="url(#gN)"/>
<ellipse cx="475.5" cy="463.5" rx="2.70" ry="3.24" fill="url(#gG)"/>
<ellipse cx="475.5" cy="470.5" rx="2.70" ry="2.70" fill="url(#gR)"/>
<circle cx="475.5" cy="466.9" r="3.0" fill="url(#gN)"/>
<ellipse cx="530.25" cy="463.75" rx="9.75" ry="11.25" fill="url(#gG)"/>
<ellipse cx="514.00" cy="467.00" rx="16.00" ry="11.00" fill="url(#gG)"/>
<ellipse cx="507.50" cy="454.50" rx="4.00" ry="4.50" fill="url(#gG)"/>
<ellipse cx="519.10" cy="446.90" rx="10.40" ry="6.90" fill="url(#gG)"/>
<ellipse cx="531.70" cy="451.60" rx="3.50" ry="5.40" fill="url(#gR)"/>
<ellipse cx="492.10" cy="458.50" rx="6.10" ry="4.70" fill="url(#gR)"/>
<ellipse cx="505.40" cy="459.45" rx="5.20" ry="4.25" fill="url(#gR)"/>
<ellipse cx="520.55" cy="460.20" rx="9.95" ry="8.80" fill="url(#gR)"/>
<ellipse cx="489.50" cy="465.35" rx="6.40" ry="4.45" fill="url(#gG)"/>
<ellipse cx="507.50" cy="469.65" rx="4.00" ry="4.45" fill="url(#gG)"/>
<ellipse cx="490.40" cy="476.00" rx="4.00" ry="2.80" fill="url(#gR)"/>
<circle cx="481.4" cy="470.1" r="2.2" fill="url(#gH)"/>
<circle cx="485.7" cy="472.0" r="3.0" fill="url(#gN)"/>
<circle cx="500.4" cy="465.8" r="2.5" fill="url(#gC)"/>
<circle cx="497.1" cy="472.0" r="2.8" fill="url(#gC)"/>
<circle cx="501.3" cy="475.8" r="3.0" fill="url(#gN)"/>
<circle cx="497.1" cy="479.1" r="2.2" fill="url(#gH)"/>
<circle cx="512.7" cy="475.8" r="3.0" fill="url(#gC)"/>
<circle cx="522.7" cy="476.3" r="3.0" fill="url(#gN)"/>
<circle cx="527.9" cy="451.1" r="2.2" fill="url(#gH)"/>
<circle cx="540.2" cy="460.6" r="2.2" fill="url(#gH)"/>
<line x1="569.8" y1="369.4" x2="614.5" y2="386.1" stroke="#a8a8a8" stroke-width="1.0" stroke-linecap="round"/>
<line x1="614.5" y1="386.1" x2="682.3" y2="386.5" stroke="#9a9ab0" stroke-width="2.2" stroke-linecap="round"/>
<line x1="629.0" y1="383.4" x2="654.3" y2="377.4" stroke="#9a9ab0" stroke-width="1.8" stroke-linecap="round"/>
<line x1="638.1" y1="383.8" x2="660.4" y2="393.8" stroke="#9a9ab0" stroke-width="1.8" stroke-linecap="round"/>
<circle cx="643.0" cy="365.5" r="2.7" fill="url(#gO)"/>
<circle cx="650.0" cy="367.3" r="2.7" fill="url(#gO)"/>
<ellipse cx="575.1" cy="366.4" rx="7.34" ry="3.78" fill="url(#gR)"/>
<ellipse cx="571.6" cy="373.8" rx="4.00" ry="5.62" fill="url(#gR)"/>
<ellipse cx="575.5" cy="373.4" rx="6.37" ry="4.32" fill="url(#gG)"/>
<ellipse cx="585.1" cy="363.8" rx="3.78" ry="2.92" fill="url(#gG)"/>
<ellipse cx="598.3" cy="372.5" rx="6.37" ry="7.34" fill="url(#gR)"/>
<ellipse cx="591.3" cy="380.0" rx="7.02" ry="12.96" fill="url(#gG)" transform="rotate(-20.0 591.3 380.0)"/>
<ellipse cx="583.4" cy="370.8" rx="3.24" ry="3.24" fill="url(#gR)"/>
<ellipse cx="580.8" cy="381.3" rx="6.70" ry="5.94" fill="url(#gR)"/>
<ellipse cx="572.0" cy="383.0" rx="5.62" ry="4.00" fill="url(#gG)"/>
<ellipse cx="612.7" cy="378.6" rx="3.24" ry="4.32" fill="url(#gR)"/>
<ellipse cx="607.9" cy="379.5" rx="7.02" ry="4.75" fill="url(#gG)"/>
<ellipse cx="597.4" cy="385.2" rx="4.75" ry="4.00" fill="url(#gR)"/>
<ellipse cx="609.7" cy="390.0" rx="4.32" ry="3.24" fill="url(#gR)"/>
<ellipse cx="600.0" cy="393.5" rx="4.32" ry="2.70" fill="url(#gG)"/>
<circle cx="569.8" cy="369.4" r="2.2" fill="url(#gH)"/>
<circle cx="583.0" cy="367.3" r="2.2" fill="url(#gN)"/>
<circle cx="601.8" cy="390.5" r="2.2" fill="url(#gH)"/>
<circle cx="614.7" cy="385.6" r="2.5" fill="url(#gN)"/>
<ellipse cx="621.1" cy="383.4" rx="2.70" ry="2.16" fill="url(#gR)"/>
<ellipse cx="620.2" cy="388.3" rx="2.70" ry="2.16" fill="url(#gG)"/>
<circle cx="629.0" cy="383.4" r="2.3" fill="url(#gN)"/>
<circle cx="629.3" cy="386.5" r="2.3" fill="url(#gN)"/>
<circle cx="633.9" cy="377.7" r="2.0" fill="url(#gH)"/>
<circle cx="638.8" cy="378.8" r="2.3" fill="url(#gN)"/>
<circle cx="638.1" cy="383.8" r="2.3" fill="url(#gN)"/>
<circle cx="640.0" cy="386.0" r="2.1" fill="url(#gC)"/>
<circle cx="644.9" cy="381.9" r="2.3" fill="url(#gN)"/>
<circle cx="645.8" cy="386.5" r="2.3" fill="url(#gN)"/>
<circle cx="647.6" cy="378.3" r="2.1" fill="url(#gC)"/>
<circle cx="654.3" cy="377.4" r="2.3" fill="url(#gN)"/>
<circle cx="653.4" cy="387.4" r="2.3" fill="url(#gC)"/>
<circle cx="661.3" cy="387.4" r="2.3" fill="url(#gN)"/>
<circle cx="660.4" cy="393.8" r="2.3" fill="url(#gN)"/>
<circle cx="665.8" cy="395.6" r="2.0" fill="url(#gH)"/>
<circle cx="669.1" cy="388.3" r="2.3" fill="url(#gC)"/>
<circle cx="676.4" cy="384.7" r="2.3" fill="url(#gN)"/>
<circle cx="676.4" cy="384.7" r="1.4" fill="url(#gC)"/>
<circle cx="682.3" cy="386.5" r="2.0" fill="url(#gH)"/>
<line x1="565.8" y1="448.2" x2="580.1" y2="446.1" stroke="#9a9ab0" stroke-width="1.8" stroke-linecap="round"/>
<line x1="571.9" y1="450.1" x2="591.4" y2="458.3" stroke="#9a9ab0" stroke-width="2.2" stroke-linecap="round"/>
<line x1="591.4" y1="458.3" x2="616.9" y2="464.3" stroke="#9a9ab0" stroke-width="2.2" stroke-linecap="round"/>
<line x1="571.3" y1="457.0" x2="580.1" y2="446.1" stroke="#9a9ab0" stroke-width="1.8" stroke-linecap="round"/>
<line x1="599.2" y1="461.0" x2="594.3" y2="467.4" stroke="#9a9ab0" stroke-width="1.8" stroke-linecap="round"/>
<line x1="616.9" y1="464.3" x2="680.7" y2="465.1" stroke="#a8a8a8" stroke-width="1.0" stroke-linecap="round"/>
<circle cx="639.9" cy="443.8" r="3.0" fill="url(#gO)"/>
<circle cx="646.6" cy="445.7" r="3.0" fill="url(#gO)"/>
<circle cx="565.8" cy="448.2" r="2.0" fill="url(#gH)"/>
<circle cx="571.9" cy="450.1" r="2.6" fill="url(#gN)"/>
<circle cx="580.1" cy="446.1" r="2.6" fill="url(#gN)"/>
<circle cx="576.4" cy="453.7" r="2.3" fill="url(#gC)"/>
<circle cx="571.3" cy="457.0" r="2.6" fill="url(#gN)"/>
<circle cx="565.1" cy="459.2" r="2.0" fill="url(#gH)"/>
<circle cx="585.9" cy="454.1" r="2.5" fill="url(#gN)"/>
<circle cx="591.4" cy="458.3" r="2.3" fill="url(#gC)"/>
<circle cx="592.8" cy="461.9" r="2.5" fill="url(#gN)"/>
<circle cx="599.2" cy="461.0" r="2.5" fill="url(#gN)"/>
<circle cx="602.0" cy="463.8" r="2.3" fill="url(#gC)"/>
<circle cx="594.3" cy="467.4" r="2.5" fill="url(#gN)"/>
<circle cx="597.4" cy="469.2" r="2.0" fill="url(#gH)"/>
<circle cx="605.6" cy="462.8" r="2.1" fill="url(#gC)"/>
<circle cx="610.7" cy="464.3" r="2.5" fill="url(#gN)"/>
<circle cx="616.9" cy="464.3" r="2.3" fill="url(#gC)"/>
<circle cx="625.3" cy="461.0" r="2.3" fill="url(#gN)"/>
<ellipse cx="625.7" cy="462.3" rx="2.16" ry="1.62" fill="url(#gG)"/>
<ellipse cx="625.7" cy="467.4" rx="2.70" ry="2.16" fill="url(#gR)"/>
<ellipse cx="626.2" cy="468.0" rx="2.70" ry="2.16" fill="url(#gR)"/>
<circle cx="626.2" cy="465.1" r="2.0" fill="url(#gH)"/>
<ellipse cx="657.0" cy="479.8" rx="7.99" ry="5.40" fill="url(#gR)"/>
<ellipse cx="634.7" cy="458.5" rx="4.32" ry="3.78" fill="url(#gG)"/>
<ellipse cx="639.9" cy="460.9" rx="6.70" ry="4.10" fill="url(#gR)"/>
<ellipse cx="648.5" cy="460.4" rx="4.32" ry="3.78" fill="url(#gR)"/>
<ellipse cx="666.5" cy="458.5" rx="4.64" ry="3.56" fill="url(#gR)"/>
<ellipse cx="657.0" cy="459.9" rx="8.64" ry="5.62" fill="url(#gG)"/>
<ellipse cx="673.6" cy="459.4" rx="6.70" ry="4.64" fill="url(#gG)"/>
<ellipse cx="631.4" cy="467.5" rx="3.24" ry="3.24" fill="url(#gR)"/>
<ellipse cx="639.9" cy="470.4" rx="6.16" ry="4.64" fill="url(#gG)"/>
<ellipse cx="647.5" cy="470.4" rx="2.70" ry="3.78" fill="url(#gG)"/>
<ellipse cx="675.0" cy="469.4" rx="5.62" ry="3.89" fill="url(#gR)"/>
<ellipse cx="667.4" cy="472.3" rx="5.40" ry="6.70" fill="url(#gG)"/>
<ellipse cx="657.0" cy="471.3" rx="8.64" ry="5.40" fill="url(#gR)"/>
<circle cx="650.8" cy="455.7" r="2.3" fill="url(#gN)"/>
<circle cx="644.2" cy="455.2" r="2.2" fill="url(#gH)"/>
<circle cx="630.4" cy="456.1" r="2.0" fill="url(#gH)"/>
<circle cx="634.2" cy="465.1" r="1.9" fill="url(#gC)"/>
<circle cx="645.0" cy="465.0" r="1.8" fill="url(#gN)"/>
<circle cx="655.0" cy="465.0" r="1.8" fill="url(#gN)"/>
<circle cx="665.5" cy="465.1" r="2.1" fill="url(#gC)"/>
<circle cx="674.1" cy="464.2" r="2.2" fill="url(#gH)"/>
<circle cx="680.7" cy="465.1" r="2.0" fill="url(#gH)"/>
<text id="la0o" font-size="10.9" fill="#222" transform="translate(111.90 20.10) scale(1.1164 1)">O</text>
<text id="la0s" font-size="10.4" fill="#222" transform="translate(120.68 23.90) scale(1.0446 1)">2</text>
<text id="la0r" font-size="10.9" fill="#222" transform="translate(125.91 20.10) scale(1.0972 1)">@M1</text>
<text id="la1o" font-size="10.9" fill="#222" transform="translate(111.90 42.20) scale(1.1164 1)">O</text>
<text id="la1s" font-size="10.4" fill="#222" transform="translate(120.68 46.00) scale(1.0446 1)">2</text>
<text id="la1r" font-size="10.9" fill="#222" transform="translate(125.91 42.20) scale(1.0972 1)">@M2</text>
<text id="la2o" font-size="10.9" fill="#222" transform="translate(111.90 64.30) scale(1.1164 1)">O</text>
<text id="la2s" font-size="10.4" fill="#222" transform="translate(120.68 68.10) scale(1.0446 1)">2</text>
<text id="la2r" font-size="10.9" fill="#222" transform="translate(125.92 64.30) scale(1.0955 1)">@M1-M1</text>
<text id="la3o" font-size="10.9" fill="#222" transform="translate(111.90 86.40) scale(1.1164 1)">O</text>
<text id="la3s" font-size="10.4" fill="#222" transform="translate(120.68 90.20) scale(1.0446 1)">2</text>
<text id="la3r" font-size="10.9" fill="#222" transform="translate(125.92 86.40) scale(1.0955 1)">@M2-M2</text>
<text id="la4o" font-size="10.9" fill="#222" transform="translate(111.90 108.50) scale(1.1164 1)">O</text>
<text id="la4s" font-size="10.4" fill="#222" transform="translate(120.68 112.30) scale(1.0446 1)">2</text>
<text id="la4r" font-size="10.9" fill="#222" transform="translate(125.92 108.50) scale(1.0955 1)">@M1-M2</text>
<text id="ya0.0" font-size="12.6" fill="#222" transform="translate(43.20 255.50) scale(1.0824 1)">0.0</text>
<text id="ya0.5" font-size="12.6" fill="#222" transform="translate(43.20 199.60) scale(1.0824 1)">0.5</text>
<text id="ya1.0" font-size="12.6" fill="#222" transform="translate(42.62 143.70) scale(1.1162 1)">1.0</text>
<text id="ya1.5" font-size="12.6" fill="#222" transform="translate(42.62 87.80) scale(1.1162 1)">1.5</text>
<text id="ya2.0" font-size="12.6" fill="#222" transform="translate(42.95 31.90) scale(1.0976 1)">2.0</text>
<text id="xa150" font-size="12.6" fill="#222" transform="translate(59.17 271.50) scale(1.0777 1)">150</text>
<text id="xa200" font-size="12.6" fill="#222" transform="translate(144.46 271.50) scale(1.0508 1)">200</text>
<text id="xa250" font-size="12.6" fill="#222" transform="translate(229.21 271.50) scale(1.0514 1)">250</text>
<text id="xa300" font-size="12.6" fill="#222" transform="translate(313.97 271.50) scale(1.0500 1)">300</text>
<text id="xat" font-size="12.4" fill="#222" transform="translate(147.50 289.40) scale(1.0721 1)">Wavelength (nm)</text>
<text id="yat" font-size="12.4" fill="#222" transform="translate(34.50 144.39) rotate(-90) scale(1.1213 1)">Intensity</text>
<text id="pa" font-size="15" fill="#000" style="font-weight:bold" transform="translate(4.48 12.50) scale(0.8887 1)">a</text>
<text id="lb0" font-size="11" fill="#222" transform="translate(445.99 24.00) scale(1.0112 1)">CN</text>
<text id="lb1o" font-size="10.9" fill="#222" transform="translate(445.90 44.70) scale(1.1164 1)">O</text>
<text id="lb1s" font-size="10.4" fill="#222" transform="translate(454.68 48.50) scale(1.0446 1)">2</text>
<text id="lb1r" font-size="10.9" fill="#222" transform="translate(459.92 44.70) scale(1.0884 1)">@CN</text>
<text id="yb0" font-size="12.3" fill="#222" transform="translate(389.20 237.20) scale(1.0416 1)">0</text>
<text id="yb1" font-size="12.3" fill="#222" transform="translate(388.56 166.17) scale(1.1885 1)">1</text>
<text id="yb2" font-size="12.3" fill="#222" transform="translate(388.88 95.14) scale(1.1363 1)">2</text>
<text id="yb3" font-size="12.3" fill="#222" transform="translate(389.19 24.11) scale(1.0834 1)">3</text>
<text id="xbM1" font-size="12.3" fill="#222" transform="translate(423.19 267.80) scale(1.0555 1)">M1</text>
<text id="xbM2" font-size="12.3" fill="#222" transform="translate(470.16 267.80) scale(1.0844 1)">M2</text>
<text id="xbM1-M2" font-size="12.3" fill="#222" transform="translate(507.94 267.80) scale(1.0483 1)">M1-M2</text>
<text id="xbM2-M2" font-size="12.3" fill="#222" transform="translate(557.67 267.80) scale(1.0702 1)">M2-M2</text>
<text id="xbM1-M1" font-size="12.3" fill="#222" transform="translate(605.93 267.80) scale(1.0735 1)">M1-M1</text>
<text id="ybt" font-size="12.3" fill="#222" transform="translate(383.10 140.19) rotate(-90) scale(0.9370 1)">D (Å)</text>
<text id="pb" font-size="14.5" fill="#000" style="font-weight:bold" transform="translate(363.89 12.50) scale(1.1084 1)">b</text>
<text id="pc" font-size="15" fill="#000" style="font-weight:bold" transform="translate(4.28 317.00) scale(0.9966 1)">c</text>
<text id="hc0o" font-size="14.0" fill="#111" transform="translate(61.40 331.70) scale(1.0696 1)">O</text>
<text id="hc0s" font-size="9.4" fill="#111" transform="translate(71.94 335.70) scale(1.1557 1)">2</text>
<text id="hc0r" font-size="14.0" fill="#111" transform="translate(77.82 331.70) scale(1.0951 1)">@M1</text>
<text id="hc1o" font-size="14.0" fill="#111" transform="translate(169.59 331.70) scale(1.0711 1)">O</text>
<text id="hc1s" font-size="9.4" fill="#111" transform="translate(180.39 335.70) scale(1.1472 1)">2</text>
<text id="hc1r" font-size="14.0" fill="#111" transform="translate(186.05 331.70) scale(1.0965 1)">@M2</text>
<text id="hc2o" font-size="14.0" fill="#111" transform="translate(285.40 331.70) scale(1.0696 1)">O</text>
<text id="hc2s" font-size="9.4" fill="#111" transform="translate(295.94 335.70) scale(1.1557 1)">2</text>
<text id="hc2r" font-size="14.0" fill="#111" transform="translate(301.81 331.70) scale(1.1055 1)">@M1-M1</text>
<text id="hc3o" font-size="14.0" fill="#111" transform="translate(423.64 331.70) scale(1.0725 1)">O</text>
<text id="hc3s" font-size="9.4" fill="#111" transform="translate(434.44 335.70) scale(1.1434 1)">2</text>
<text id="hc3r" font-size="14.0" fill="#111" transform="translate(440.09 331.70) scale(1.1036 1)">@M1-M2</text>
<text id="hc4o" font-size="14.0" fill="#111" transform="translate(578.54 331.70) scale(1.0718 1)">O</text>
<text id="hc4s" font-size="9.4" fill="#111" transform="translate(589.36 335.70) scale(1.1472 1)">2</text>
<text id="hc4r" font-size="14.0" fill="#111" transform="translate(594.99 331.70) scale(1.1075 1)">@M2-M2</text>
<text id="lumo" font-size="15.4" fill="#111" transform="translate(2.87 391.00) scale(0.9358 1)">LUMO</text>
<text id="homo" font-size="15.6" fill="#111" transform="translate(-0.83 456.60) scale(0.9358 1)">HOMO</text>
<text id="e0E" font-size="14.0" fill="#000" style="font-style:italic" transform="translate(43.30 511.50) scale(0.9064 1)">E</text>
<text id="e0S" font-size="10.4" fill="#000" transform="translate(52.13 515.40) scale(0.7416 1)">S1</text>
<text id="e0R" font-size="14.0" fill="#000" transform="translate(64.98 511.50) scale(1.0279 1)">= 4.04 eV</text>
<text id="el0" font-size="14.0" fill="#000" transform="translate(42.91 531.10) scale(1.1364 1)">electron:</text>
<text id="o0O" font-size="14.0" fill="#000" transform="translate(42.98 550.70) scale(0.9896 1)">O</text>
<text id="o0S" font-size="10.0" fill="#000" transform="translate(53.70 554.30) scale(1.0856 1)">2</text>
<text id="o0R" font-size="14.0" fill="#000" transform="translate(59.72 550.70) scale(1.0218 1)">:  34.46%</text>
<text id="h0" font-size="14.0" fill="#000" transform="translate(42.60 570.30) scale(1.1432 1)">hole:</text>
<text id="p0O" font-size="14.0" fill="#000" transform="translate(42.98 589.90) scale(0.9896 1)">O</text>
<text id="p0S" font-size="10.0" fill="#000" transform="translate(53.70 593.50) scale(1.0856 1)">2</text>
<text id="p0R" font-size="14.0" fill="#000" transform="translate(59.74 589.90) scale(1.0101 1)">:  0.45%</text>
<text id="e1E" font-size="14.0" fill="#000" style="font-style:italic" transform="translate(159.51 511.40) scale(0.9079 1)">E</text>
<text id="e1S" font-size="10.4" fill="#000" transform="translate(168.38 515.30) scale(0.7416 1)">S1</text>
<text id="e1R" font-size="14.0" fill="#000" transform="translate(181.23 511.40) scale(1.0278 1)">= 3.59 eV</text>
<text id="el1" font-size="14.0" fill="#000" transform="translate(159.16 531.00) scale(1.1314 1)">electron:</text>
<text id="o1O" font-size="14.0" fill="#000" transform="translate(159.25 550.60) scale(0.9861 1)">O</text>
<text id="o1S" font-size="10.0" fill="#000" transform="translate(169.94 554.20) scale(1.0362 1)">2</text>
<text id="o1R" font-size="14.0" fill="#000" transform="translate(175.97 550.60) scale(1.0176 1)">:  35.01%</text>
<text id="h1" font-size="14.0" fill="#000" transform="translate(158.88 570.20) scale(1.1334 1)">hole:</text>
<text id="p1O" font-size="14.0" fill="#000" transform="translate(159.25 589.80) scale(0.9861 1)">O</text>
<text id="p1S" font-size="10.0" fill="#000" transform="translate(169.94 593.40) scale(1.0362 1)">2</text>
<text id="p1R" font-size="14.0" fill="#000" transform="translate(175.96 589.80) scale(1.0311 1)">:  0.11%</text>
<text id="e2E" font-size="14.0" fill="#000" style="font-style:italic" transform="translate(287.77 511.40) scale(0.8839 1)">E</text>
<text id="e2S" font-size="10.4" fill="#000" transform="translate(296.39 515.30) scale(0.7628 1)">S1</text>
<text id="e2R" font-size="14.0" fill="#000" transform="translate(309.23 511.40) scale(1.0278 1)">= 3.68 eV</text>
<text id="el2" font-size="14.0" fill="#000" transform="translate(287.43 531.00) scale(1.1308 1)">electron:</text>
<text id="o2O" font-size="14.0" fill="#000" transform="translate(287.49 550.60) scale(0.9861 1)">O</text>
<text id="o2S" font-size="10.0" fill="#000" transform="translate(297.92 554.20) scale(1.0826 1)">2</text>
<text id="o2R" font-size="14.0" fill="#000" transform="translate(304.01 550.60) scale(1.0015 1)">:  -0.06%</text>
<text id="h2" font-size="14.0" fill="#000" transform="translate(287.12 570.20) scale(1.1334 1)">hole:</text>
<text id="p2O" font-size="14.0" fill="#000" transform="translate(287.49 589.80) scale(0.9861 1)">O</text>
<text id="p2S" font-size="10.0" fill="#000" transform="translate(297.92 593.40) scale(1.0826 1)">2</text>
<text id="p2R" font-size="14.0" fill="#000" transform="translate(304.24 589.80) scale(1.0053 1)">:  0.04%</text>
<text id="e3E" font-size="14.0" fill="#000" style="font-style:italic" transform="translate(425.30 512.80) scale(0.9064 1)">E</text>
<text id="e3S" font-size="10.4" fill="#000" transform="translate(434.13 516.70) scale(0.7416 1)">S1</text>
<text id="e3R" font-size="14.0" fill="#000" transform="translate(446.98 512.80) scale(1.0279 1)">= 3.42 eV</text>
<text id="el3" font-size="14.0" fill="#000" transform="translate(424.91 532.40) scale(1.1364 1)">electron:</text>
<text id="o3O" font-size="14.0" fill="#000" transform="translate(424.98 552.00) scale(0.9896 1)">O</text>
<text id="o3S" font-size="10.0" fill="#000" transform="translate(435.70 555.60) scale(1.0856 1)">2</text>
<text id="o3R" font-size="14.0" fill="#000" transform="translate(441.72 552.00) scale(1.0232 1)">:  4.74%</text>
<text id="h3" font-size="14.0" fill="#000" transform="translate(424.60 571.60) scale(1.1432 1)">hole:</text>
<text id="p3O" font-size="14.0" fill="#000" transform="translate(424.98 591.20) scale(0.9896 1)">O</text>
<text id="p3S" font-size="10.0" fill="#000" transform="translate(435.70 594.80) scale(1.0856 1)">2</text>
<text id="p3R" font-size="14.0" fill="#000" transform="translate(441.74 591.20) scale(1.0101 1)">:  0.07%</text>
<text id="e4E" font-size="14.0" fill="#000" style="font-style:italic" transform="translate(573.77 513.30) scale(0.8839 1)">E</text>
<text id="e4S" font-size="10.4" fill="#000" transform="translate(582.39 517.20) scale(0.7628 1)">S1</text>
<text id="e4R" font-size="14.0" fill="#000" transform="translate(595.23 513.30) scale(1.0278 1)">= 3.45 eV</text>
<text id="el4" font-size="14.0" fill="#000" transform="translate(573.43 532.90) scale(1.1308 1)">electron:</text>
<text id="o4O" font-size="14.0" fill="#000" transform="translate(573.49 552.50) scale(0.9861 1)">O</text>
<text id="o4S" font-size="10.0" fill="#000" transform="translate(583.92 556.10) scale(1.0826 1)">2</text>
<text id="o4R" font-size="14.0" fill="#000" transform="translate(590.22 552.50) scale(1.0183 1)">:  4.62%</text>
<text id="h4" font-size="14.0" fill="#000" transform="translate(573.12 572.10) scale(1.1334 1)">hole:</text>
<text id="p4O" font-size="14.0" fill="#000" transform="translate(573.49 591.70) scale(0.9861 1)">O</text>
<text id="p4S" font-size="10.0" fill="#000" transform="translate(583.92 595.30) scale(1.0826 1)">2</text>
<text id="p4R" font-size="14.0" fill="#000" transform="translate(590.24 591.70) scale(1.0053 1)">:  0.03%</text>
</svg>
</body></html>
